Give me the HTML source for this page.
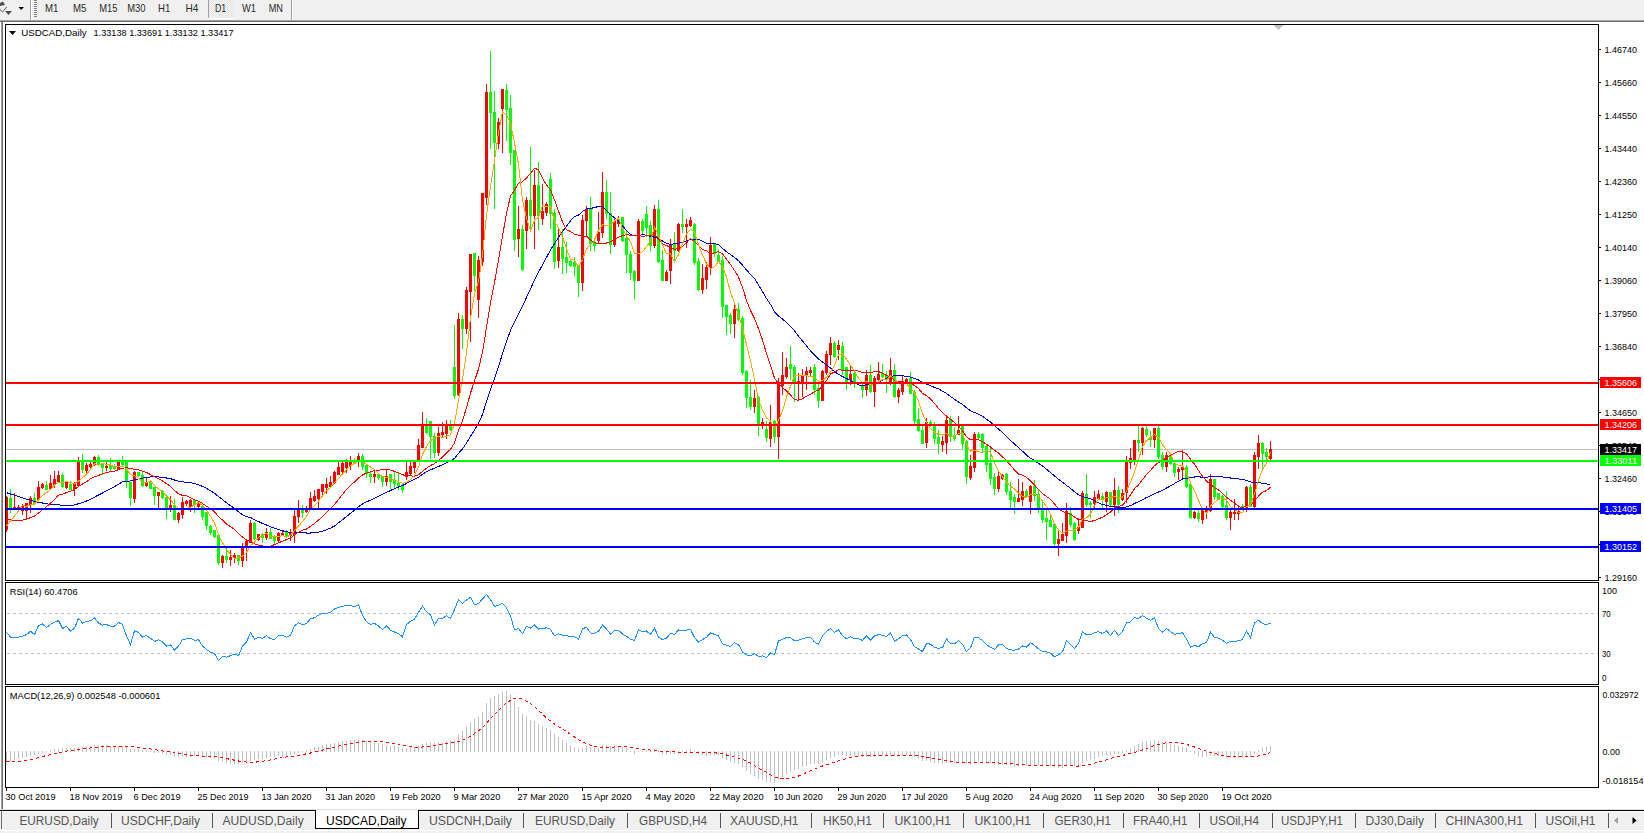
<!DOCTYPE html>
<html><head><meta charset="utf-8"><style>html,body{margin:0;padding:0;overflow:hidden;background:#f0f0f0}svg{display:block}text{font-family:"Liberation Sans",sans-serif}</style></head>
<body><svg width="1644" height="833" viewBox="0 0 1644 833">
<defs><pattern id="dots" width="2" height="2" patternUnits="userSpaceOnUse"><rect width="2" height="2" fill="#f4f4f4"/><rect width="1" height="1" fill="#e4e4e4"/><rect x="1" y="1" width="1" height="1" fill="#e4e4e4"/></pattern><clipPath id="cm"><rect x="6" y="25" width="1592" height="555"/></clipPath><clipPath id="cr"><rect x="6" y="583" width="1592" height="101"/></clipPath><clipPath id="cd"><rect x="6" y="687" width="1592" height="100"/></clipPath></defs>
<g shape-rendering="crispEdges">
<rect x="0" y="0" width="1644" height="833" fill="#f0f0f0"/>
<rect x="0" y="20" width="1644" height="1" fill="#a0a0a0"/>
<rect x="0" y="21" width="1644" height="1" fill="#6d6d6d"/>
<rect x="30" y="0" width="1" height="20" fill="#a0a0a0"/>
<rect x="31" y="0" width="1" height="20" fill="#ffffff"/>
<rect x="34" y="0" width="3" height="1" fill="#808080"/>
<rect x="34" y="2" width="3" height="1" fill="#808080"/>
<rect x="34" y="4" width="3" height="1" fill="#808080"/>
<rect x="34" y="6" width="3" height="1" fill="#808080"/>
<rect x="34" y="8" width="3" height="1" fill="#808080"/>
<rect x="34" y="10" width="3" height="1" fill="#808080"/>
<rect x="34" y="12" width="3" height="1" fill="#808080"/>
<rect x="34" y="14" width="3" height="1" fill="#808080"/>
<rect x="34" y="16" width="3" height="1" fill="#808080"/>
<rect x="208" y="0" width="1" height="18" fill="#a0a0a0"/>
<rect x="209" y="0" width="25" height="18" fill="url(#dots)"/>
<rect x="208" y="18" width="26" height="1" fill="#ffffff"/>
<rect x="291" y="0" width="1" height="20" fill="#a0a0a0"/>
<rect x="292" y="0" width="1" height="20" fill="#ffffff"/>
</g>
<text x="45" y="12" font-size="10.4" fill="#2a2a2a" textLength="13.4" lengthAdjust="spacingAndGlyphs">M1</text>
<text x="73" y="12" font-size="10.4" fill="#2a2a2a" textLength="13.4" lengthAdjust="spacingAndGlyphs">M5</text>
<text x="99.3" y="12" font-size="10.4" fill="#2a2a2a" textLength="18.2" lengthAdjust="spacingAndGlyphs">M15</text>
<text x="127.3" y="12" font-size="10.4" fill="#2a2a2a" textLength="18.2" lengthAdjust="spacingAndGlyphs">M30</text>
<text x="158" y="12" font-size="10.4" fill="#2a2a2a" textLength="12.3" lengthAdjust="spacingAndGlyphs">H1</text>
<text x="185.4" y="12" font-size="10.4" fill="#2a2a2a" textLength="12.9" lengthAdjust="spacingAndGlyphs">H4</text>
<text x="214.9" y="12" font-size="10.4" fill="#2a2a2a" textLength="11.3" lengthAdjust="spacingAndGlyphs">D1</text>
<text x="242" y="12" font-size="10.4" fill="#2a2a2a" textLength="14" lengthAdjust="spacingAndGlyphs">W1</text>
<text x="268.7" y="12" font-size="10.4" fill="#2a2a2a" textLength="14.3" lengthAdjust="spacingAndGlyphs">MN</text>
<path d="M0 3 L3 1.5 L5 5 L0 6 Z" fill="#505050"/><path d="M0 9 L2.5 11.5 L6.5 6.5 L7 7.2 L2.5 12.5 L0 10 Z" fill="#505050"/><path d="M5 11 L12 11 L8.5 15 Z" fill="#505050"/>
<path d="M18.5 7 L24 7 L21.2 10 Z" fill="#000"/>
<g shape-rendering="crispEdges">
<rect x="0" y="22" width="1644" height="787" fill="#ffffff"/>
<rect x="1" y="22" width="1" height="787" fill="#a0a0a0"/>
<rect x="2" y="22" width="1" height="787" fill="#6d6d6d"/>
<rect x="5" y="24" width="1594" height="1" fill="#000"/>
<rect x="5" y="24" width="1" height="557" fill="#000"/>
<rect x="1598" y="24" width="1" height="557" fill="#000"/>
<rect x="5" y="580" width="1594" height="1" fill="#000"/>
<rect x="5" y="582" width="1594" height="1" fill="#000"/>
<rect x="5" y="582" width="1" height="103" fill="#000"/>
<rect x="1598" y="582" width="1" height="103" fill="#000"/>
<rect x="5" y="684" width="1594" height="1" fill="#000"/>
<rect x="5" y="686" width="1594" height="1" fill="#000"/>
<rect x="5" y="686" width="1" height="102" fill="#000"/>
<rect x="1598" y="686" width="1" height="102" fill="#000"/>
<rect x="5" y="787" width="1594" height="1" fill="#000"/>
</g>
<path d="M1273.5 25 L1283.5 25 L1278.5 30 Z" fill="#c0c0c0"/>
<g shape-rendering="crispEdges">
<rect x="1599" y="49" width="2" height="1" fill="#000"/>
<rect x="1599" y="82" width="2" height="1" fill="#000"/>
<rect x="1599" y="115" width="2" height="1" fill="#000"/>
<rect x="1599" y="148" width="2" height="1" fill="#000"/>
<rect x="1599" y="181" width="2" height="1" fill="#000"/>
<rect x="1599" y="214" width="2" height="1" fill="#000"/>
<rect x="1599" y="247" width="2" height="1" fill="#000"/>
<rect x="1599" y="280" width="2" height="1" fill="#000"/>
<rect x="1599" y="313" width="2" height="1" fill="#000"/>
<rect x="1599" y="346" width="2" height="1" fill="#000"/>
<rect x="1599" y="379" width="2" height="1" fill="#000"/>
<rect x="1599" y="412" width="2" height="1" fill="#000"/>
<rect x="1599" y="445" width="2" height="1" fill="#000"/>
<rect x="1599" y="478" width="2" height="1" fill="#000"/>
<rect x="1599" y="511" width="2" height="1" fill="#000"/>
<rect x="1599" y="544" width="2" height="1" fill="#000"/>
<rect x="1599" y="577" width="2" height="1" fill="#000"/>
</g>
<text x="1604.5" y="53" font-size="9.6" fill="#000" textLength="32.5" lengthAdjust="spacingAndGlyphs">1.46740</text>
<text x="1604.5" y="86" font-size="9.6" fill="#000" textLength="32.5" lengthAdjust="spacingAndGlyphs">1.45660</text>
<text x="1604.5" y="119" font-size="9.6" fill="#000" textLength="32.5" lengthAdjust="spacingAndGlyphs">1.44550</text>
<text x="1604.5" y="152" font-size="9.6" fill="#000" textLength="32.5" lengthAdjust="spacingAndGlyphs">1.43440</text>
<text x="1604.5" y="185" font-size="9.6" fill="#000" textLength="32.5" lengthAdjust="spacingAndGlyphs">1.42360</text>
<text x="1604.5" y="218" font-size="9.6" fill="#000" textLength="32.5" lengthAdjust="spacingAndGlyphs">1.41250</text>
<text x="1604.5" y="251" font-size="9.6" fill="#000" textLength="32.5" lengthAdjust="spacingAndGlyphs">1.40140</text>
<text x="1604.5" y="284" font-size="9.6" fill="#000" textLength="32.5" lengthAdjust="spacingAndGlyphs">1.39060</text>
<text x="1604.5" y="317" font-size="9.6" fill="#000" textLength="32.5" lengthAdjust="spacingAndGlyphs">1.37950</text>
<text x="1604.5" y="350" font-size="9.6" fill="#000" textLength="32.5" lengthAdjust="spacingAndGlyphs">1.36840</text>
<text x="1604.5" y="383" font-size="9.6" fill="#000" textLength="32.5" lengthAdjust="spacingAndGlyphs">1.35730</text>
<text x="1604.5" y="416" font-size="9.6" fill="#000" textLength="32.5" lengthAdjust="spacingAndGlyphs">1.34650</text>
<text x="1604.5" y="449" font-size="9.6" fill="#000" textLength="32.5" lengthAdjust="spacingAndGlyphs">1.33540</text>
<text x="1604.5" y="482" font-size="9.6" fill="#000" textLength="32.5" lengthAdjust="spacingAndGlyphs">1.32460</text>
<text x="1604.5" y="515" font-size="9.6" fill="#000" textLength="32.5" lengthAdjust="spacingAndGlyphs">1.31370</text>
<text x="1604.5" y="548" font-size="9.6" fill="#000" textLength="32.5" lengthAdjust="spacingAndGlyphs">1.30270</text>
<text x="1604.5" y="581" font-size="9.6" fill="#000" textLength="32.5" lengthAdjust="spacingAndGlyphs">1.29160</text>
<g shape-rendering="crispEdges">
<rect x="6" y="449" width="1592" height="1" fill="#c0c0c0"/>
<rect x="6" y="496" width="1" height="36" fill="#ff0000"/>
<rect x="6" y="497" width="2" height="33" fill="#ff0000"/>
<rect x="10" y="489" width="1" height="24" fill="#00ff00"/>
<rect x="9" y="498" width="3" height="10" fill="#00ff00"/>
<rect x="14" y="493" width="1" height="16" fill="#ff0000"/>
<rect x="13" y="507" width="3" height="2" fill="#ff0000"/>
<rect x="18" y="505" width="1" height="6" fill="#ff0000"/>
<rect x="17" y="507" width="3" height="3" fill="#ff0000"/>
<rect x="22" y="504" width="1" height="11" fill="#ff0000"/>
<rect x="21" y="506" width="3" height="5" fill="#ff0000"/>
<rect x="26" y="503" width="1" height="16" fill="#ff0000"/>
<rect x="25" y="503" width="3" height="8" fill="#ff0000"/>
<rect x="30" y="496" width="1" height="17" fill="#ff0000"/>
<rect x="29" y="498" width="3" height="7" fill="#ff0000"/>
<rect x="34" y="493" width="1" height="12" fill="#00ff00"/>
<rect x="33" y="498" width="3" height="6" fill="#00ff00"/>
<rect x="38" y="481" width="1" height="20" fill="#ff0000"/>
<rect x="37" y="487" width="3" height="13" fill="#ff0000"/>
<rect x="42" y="483" width="1" height="6" fill="#ff0000"/>
<rect x="41" y="484" width="3" height="4" fill="#ff0000"/>
<rect x="46" y="481" width="1" height="9" fill="#00ff00"/>
<rect x="45" y="485" width="3" height="5" fill="#00ff00"/>
<rect x="50" y="475" width="1" height="15" fill="#ff0000"/>
<rect x="49" y="483" width="3" height="6" fill="#ff0000"/>
<rect x="54" y="471" width="1" height="17" fill="#ff0000"/>
<rect x="53" y="479" width="3" height="6" fill="#ff0000"/>
<rect x="58" y="471" width="1" height="12" fill="#ff0000"/>
<rect x="57" y="475" width="3" height="7" fill="#ff0000"/>
<rect x="62" y="473" width="1" height="15" fill="#00ff00"/>
<rect x="61" y="475" width="3" height="12" fill="#00ff00"/>
<rect x="66" y="481" width="1" height="8" fill="#ff0000"/>
<rect x="65" y="482" width="3" height="6" fill="#ff0000"/>
<rect x="70" y="481" width="1" height="9" fill="#00ff00"/>
<rect x="69" y="484" width="3" height="6" fill="#00ff00"/>
<rect x="74" y="482" width="1" height="14" fill="#ff0000"/>
<rect x="73" y="484" width="3" height="5" fill="#ff0000"/>
<rect x="78" y="457" width="1" height="30" fill="#ff0000"/>
<rect x="77" y="462" width="3" height="24" fill="#ff0000"/>
<rect x="82" y="454" width="1" height="19" fill="#00ff00"/>
<rect x="81" y="462" width="3" height="8" fill="#00ff00"/>
<rect x="86" y="463" width="1" height="12" fill="#ff0000"/>
<rect x="85" y="465" width="3" height="6" fill="#ff0000"/>
<rect x="90" y="462" width="1" height="6" fill="#ff0000"/>
<rect x="89" y="464" width="3" height="3" fill="#ff0000"/>
<rect x="94" y="456" width="1" height="10" fill="#ff0000"/>
<rect x="93" y="457" width="3" height="8" fill="#ff0000"/>
<rect x="98" y="455" width="1" height="11" fill="#00ff00"/>
<rect x="97" y="457" width="3" height="8" fill="#00ff00"/>
<rect x="102" y="464" width="1" height="11" fill="#00ff00"/>
<rect x="101" y="464" width="3" height="4" fill="#00ff00"/>
<rect x="106" y="462" width="1" height="9" fill="#ff0000"/>
<rect x="105" y="466" width="3" height="2" fill="#ff0000"/>
<rect x="110" y="458" width="1" height="13" fill="#00ff00"/>
<rect x="109" y="465" width="3" height="4" fill="#00ff00"/>
<rect x="114" y="464" width="1" height="6" fill="#00ff00"/>
<rect x="113" y="466" width="3" height="3" fill="#00ff00"/>
<rect x="118" y="462" width="1" height="8" fill="#ff0000"/>
<rect x="117" y="462" width="3" height="7" fill="#ff0000"/>
<rect x="122" y="456" width="1" height="10" fill="#00ff00"/>
<rect x="121" y="462" width="3" height="3" fill="#00ff00"/>
<rect x="126" y="462" width="1" height="26" fill="#00ff00"/>
<rect x="125" y="462" width="3" height="19" fill="#00ff00"/>
<rect x="130" y="482" width="1" height="24" fill="#00ff00"/>
<rect x="129" y="482" width="3" height="16" fill="#00ff00"/>
<rect x="134" y="471" width="1" height="32" fill="#ff0000"/>
<rect x="133" y="472" width="3" height="27" fill="#ff0000"/>
<rect x="138" y="472" width="1" height="5" fill="#00ff00"/>
<rect x="137" y="472" width="3" height="4" fill="#00ff00"/>
<rect x="142" y="472" width="1" height="15" fill="#00ff00"/>
<rect x="141" y="475" width="3" height="11" fill="#00ff00"/>
<rect x="146" y="477" width="1" height="10" fill="#ff0000"/>
<rect x="145" y="482" width="3" height="4" fill="#ff0000"/>
<rect x="150" y="480" width="1" height="9" fill="#00ff00"/>
<rect x="149" y="481" width="3" height="8" fill="#00ff00"/>
<rect x="154" y="487" width="1" height="18" fill="#00ff00"/>
<rect x="153" y="487" width="3" height="9" fill="#00ff00"/>
<rect x="158" y="492" width="1" height="17" fill="#ff0000"/>
<rect x="157" y="492" width="3" height="4" fill="#ff0000"/>
<rect x="162" y="490" width="1" height="9" fill="#00ff00"/>
<rect x="161" y="491" width="3" height="7" fill="#00ff00"/>
<rect x="166" y="495" width="1" height="24" fill="#00ff00"/>
<rect x="165" y="497" width="3" height="11" fill="#00ff00"/>
<rect x="170" y="496" width="1" height="16" fill="#ff0000"/>
<rect x="169" y="505" width="3" height="3" fill="#ff0000"/>
<rect x="174" y="499" width="1" height="21" fill="#00ff00"/>
<rect x="173" y="505" width="3" height="15" fill="#00ff00"/>
<rect x="178" y="512" width="1" height="11" fill="#ff0000"/>
<rect x="177" y="513" width="3" height="7" fill="#ff0000"/>
<rect x="182" y="497" width="1" height="22" fill="#ff0000"/>
<rect x="181" y="502" width="3" height="13" fill="#ff0000"/>
<rect x="186" y="500" width="1" height="6" fill="#ff0000"/>
<rect x="185" y="501" width="3" height="3" fill="#ff0000"/>
<rect x="190" y="499" width="1" height="13" fill="#ff0000"/>
<rect x="189" y="500" width="3" height="7" fill="#ff0000"/>
<rect x="194" y="499" width="1" height="14" fill="#00ff00"/>
<rect x="193" y="500" width="3" height="5" fill="#00ff00"/>
<rect x="198" y="502" width="1" height="6" fill="#ff0000"/>
<rect x="197" y="503" width="3" height="4" fill="#ff0000"/>
<rect x="202" y="505" width="1" height="15" fill="#00ff00"/>
<rect x="201" y="506" width="3" height="11" fill="#00ff00"/>
<rect x="206" y="512" width="1" height="18" fill="#00ff00"/>
<rect x="205" y="512" width="3" height="14" fill="#00ff00"/>
<rect x="210" y="525" width="1" height="10" fill="#00ff00"/>
<rect x="209" y="526" width="3" height="7" fill="#00ff00"/>
<rect x="214" y="530" width="1" height="8" fill="#00ff00"/>
<rect x="213" y="530" width="3" height="7" fill="#00ff00"/>
<rect x="218" y="535" width="1" height="30" fill="#00ff00"/>
<rect x="217" y="535" width="3" height="28" fill="#00ff00"/>
<rect x="222" y="555" width="1" height="13" fill="#ff0000"/>
<rect x="221" y="556" width="3" height="7" fill="#ff0000"/>
<rect x="226" y="548" width="1" height="15" fill="#00ff00"/>
<rect x="225" y="556" width="3" height="4" fill="#00ff00"/>
<rect x="230" y="550" width="1" height="16" fill="#ff0000"/>
<rect x="229" y="557" width="3" height="3" fill="#ff0000"/>
<rect x="234" y="553" width="1" height="10" fill="#ff0000"/>
<rect x="233" y="555" width="3" height="3" fill="#ff0000"/>
<rect x="238" y="555" width="1" height="10" fill="#00ff00"/>
<rect x="237" y="555" width="3" height="6" fill="#00ff00"/>
<rect x="242" y="543" width="1" height="24" fill="#ff0000"/>
<rect x="241" y="547" width="3" height="14" fill="#ff0000"/>
<rect x="246" y="540" width="1" height="21" fill="#ff0000"/>
<rect x="245" y="541" width="3" height="6" fill="#ff0000"/>
<rect x="250" y="520" width="1" height="23" fill="#ff0000"/>
<rect x="249" y="523" width="3" height="20" fill="#ff0000"/>
<rect x="254" y="522" width="1" height="18" fill="#00ff00"/>
<rect x="253" y="523" width="3" height="16" fill="#00ff00"/>
<rect x="258" y="534" width="1" height="7" fill="#ff0000"/>
<rect x="257" y="534" width="3" height="6" fill="#ff0000"/>
<rect x="262" y="533" width="1" height="10" fill="#00ff00"/>
<rect x="261" y="534" width="3" height="4" fill="#00ff00"/>
<rect x="266" y="528" width="1" height="12" fill="#ff0000"/>
<rect x="265" y="532" width="3" height="6" fill="#ff0000"/>
<rect x="270" y="528" width="1" height="11" fill="#00ff00"/>
<rect x="269" y="532" width="3" height="7" fill="#00ff00"/>
<rect x="274" y="535" width="1" height="9" fill="#00ff00"/>
<rect x="273" y="537" width="3" height="4" fill="#00ff00"/>
<rect x="278" y="532" width="1" height="11" fill="#ff0000"/>
<rect x="277" y="533" width="3" height="8" fill="#ff0000"/>
<rect x="282" y="530" width="1" height="6" fill="#ff0000"/>
<rect x="281" y="533" width="3" height="3" fill="#ff0000"/>
<rect x="286" y="530" width="1" height="8" fill="#00ff00"/>
<rect x="285" y="532" width="3" height="5" fill="#00ff00"/>
<rect x="290" y="529" width="1" height="12" fill="#ff0000"/>
<rect x="289" y="533" width="3" height="3" fill="#ff0000"/>
<rect x="294" y="510" width="1" height="33" fill="#ff0000"/>
<rect x="293" y="516" width="3" height="19" fill="#ff0000"/>
<rect x="298" y="500" width="1" height="23" fill="#ff0000"/>
<rect x="297" y="509" width="3" height="8" fill="#ff0000"/>
<rect x="302" y="505" width="1" height="13" fill="#00ff00"/>
<rect x="301" y="508" width="3" height="5" fill="#00ff00"/>
<rect x="306" y="506" width="1" height="7" fill="#ff0000"/>
<rect x="305" y="509" width="3" height="3" fill="#ff0000"/>
<rect x="310" y="492" width="1" height="18" fill="#ff0000"/>
<rect x="309" y="498" width="3" height="11" fill="#ff0000"/>
<rect x="314" y="490" width="1" height="12" fill="#ff0000"/>
<rect x="313" y="496" width="3" height="5" fill="#ff0000"/>
<rect x="318" y="489" width="1" height="19" fill="#ff0000"/>
<rect x="317" y="489" width="3" height="10" fill="#ff0000"/>
<rect x="322" y="484" width="1" height="13" fill="#ff0000"/>
<rect x="321" y="484" width="3" height="8" fill="#ff0000"/>
<rect x="326" y="478" width="1" height="16" fill="#ff0000"/>
<rect x="325" y="484" width="3" height="4" fill="#ff0000"/>
<rect x="330" y="476" width="1" height="11" fill="#ff0000"/>
<rect x="329" y="482" width="3" height="5" fill="#ff0000"/>
<rect x="334" y="471" width="1" height="13" fill="#ff0000"/>
<rect x="333" y="472" width="3" height="11" fill="#ff0000"/>
<rect x="338" y="462" width="1" height="13" fill="#ff0000"/>
<rect x="337" y="467" width="3" height="8" fill="#ff0000"/>
<rect x="342" y="461" width="1" height="14" fill="#ff0000"/>
<rect x="341" y="463" width="3" height="9" fill="#ff0000"/>
<rect x="346" y="459" width="1" height="14" fill="#ff0000"/>
<rect x="345" y="462" width="3" height="6" fill="#ff0000"/>
<rect x="350" y="456" width="1" height="14" fill="#ff0000"/>
<rect x="349" y="461" width="3" height="5" fill="#ff0000"/>
<rect x="354" y="458" width="1" height="6" fill="#00ff00"/>
<rect x="353" y="460" width="3" height="3" fill="#00ff00"/>
<rect x="358" y="453" width="1" height="14" fill="#ff0000"/>
<rect x="357" y="456" width="3" height="5" fill="#ff0000"/>
<rect x="362" y="454" width="1" height="16" fill="#00ff00"/>
<rect x="361" y="456" width="3" height="11" fill="#00ff00"/>
<rect x="366" y="464" width="1" height="14" fill="#00ff00"/>
<rect x="365" y="465" width="3" height="9" fill="#00ff00"/>
<rect x="370" y="472" width="1" height="11" fill="#00ff00"/>
<rect x="369" y="474" width="3" height="3" fill="#00ff00"/>
<rect x="374" y="469" width="1" height="14" fill="#ff0000"/>
<rect x="373" y="474" width="3" height="3" fill="#ff0000"/>
<rect x="378" y="474" width="1" height="6" fill="#00ff00"/>
<rect x="377" y="474" width="3" height="4" fill="#00ff00"/>
<rect x="382" y="477" width="1" height="10" fill="#00ff00"/>
<rect x="381" y="477" width="3" height="5" fill="#00ff00"/>
<rect x="386" y="469" width="1" height="17" fill="#ff0000"/>
<rect x="385" y="476" width="3" height="6" fill="#ff0000"/>
<rect x="390" y="474" width="1" height="15" fill="#00ff00"/>
<rect x="389" y="474" width="3" height="8" fill="#00ff00"/>
<rect x="394" y="472" width="1" height="17" fill="#00ff00"/>
<rect x="393" y="480" width="3" height="4" fill="#00ff00"/>
<rect x="398" y="472" width="1" height="18" fill="#00ff00"/>
<rect x="397" y="483" width="3" height="3" fill="#00ff00"/>
<rect x="402" y="484" width="1" height="9" fill="#00ff00"/>
<rect x="401" y="485" width="3" height="5" fill="#00ff00"/>
<rect x="406" y="462" width="1" height="18" fill="#ff0000"/>
<rect x="405" y="472" width="3" height="5" fill="#ff0000"/>
<rect x="410" y="462" width="1" height="13" fill="#ff0000"/>
<rect x="409" y="466" width="3" height="8" fill="#ff0000"/>
<rect x="414" y="461" width="1" height="12" fill="#ff0000"/>
<rect x="413" y="462" width="3" height="6" fill="#ff0000"/>
<rect x="418" y="439" width="1" height="23" fill="#ff0000"/>
<rect x="417" y="445" width="3" height="16" fill="#ff0000"/>
<rect x="422" y="412" width="1" height="36" fill="#ff0000"/>
<rect x="421" y="425" width="3" height="23" fill="#ff0000"/>
<rect x="426" y="418" width="1" height="16" fill="#00ff00"/>
<rect x="425" y="426" width="3" height="7" fill="#00ff00"/>
<rect x="430" y="421" width="1" height="38" fill="#00ff00"/>
<rect x="429" y="421" width="3" height="16" fill="#00ff00"/>
<rect x="434" y="433" width="1" height="25" fill="#00ff00"/>
<rect x="433" y="436" width="3" height="17" fill="#00ff00"/>
<rect x="438" y="427" width="1" height="29" fill="#ff0000"/>
<rect x="437" y="433" width="3" height="20" fill="#ff0000"/>
<rect x="442" y="422" width="1" height="16" fill="#ff0000"/>
<rect x="441" y="432" width="3" height="3" fill="#ff0000"/>
<rect x="446" y="420" width="1" height="19" fill="#ff0000"/>
<rect x="445" y="425" width="3" height="9" fill="#ff0000"/>
<rect x="450" y="420" width="1" height="11" fill="#00ff00"/>
<rect x="449" y="425" width="3" height="5" fill="#00ff00"/>
<rect x="454" y="325" width="1" height="74" fill="#00ff00"/>
<rect x="453" y="367" width="3" height="29" fill="#00ff00"/>
<rect x="458" y="313" width="1" height="83" fill="#ff0000"/>
<rect x="457" y="319" width="3" height="76" fill="#ff0000"/>
<rect x="462" y="315" width="1" height="34" fill="#00ff00"/>
<rect x="461" y="319" width="3" height="10" fill="#00ff00"/>
<rect x="466" y="287" width="1" height="47" fill="#ff0000"/>
<rect x="465" y="290" width="3" height="39" fill="#ff0000"/>
<rect x="470" y="254" width="1" height="88" fill="#ff0000"/>
<rect x="469" y="254" width="3" height="38" fill="#ff0000"/>
<rect x="474" y="253" width="1" height="38" fill="#00ff00"/>
<rect x="473" y="253" width="3" height="23" fill="#00ff00"/>
<rect x="478" y="256" width="1" height="62" fill="#ff0000"/>
<rect x="477" y="260" width="3" height="40" fill="#ff0000"/>
<rect x="482" y="193" width="1" height="73" fill="#ff0000"/>
<rect x="481" y="193" width="3" height="69" fill="#ff0000"/>
<rect x="486" y="84" width="1" height="121" fill="#ff0000"/>
<rect x="485" y="92" width="3" height="106" fill="#ff0000"/>
<rect x="490" y="51" width="1" height="98" fill="#00ff00"/>
<rect x="489" y="92" width="3" height="21" fill="#00ff00"/>
<rect x="494" y="91" width="1" height="118" fill="#00ff00"/>
<rect x="493" y="112" width="3" height="31" fill="#00ff00"/>
<rect x="498" y="118" width="1" height="31" fill="#ff0000"/>
<rect x="497" y="122" width="3" height="22" fill="#ff0000"/>
<rect x="502" y="89" width="1" height="64" fill="#ff0000"/>
<rect x="501" y="89" width="3" height="20" fill="#ff0000"/>
<rect x="506" y="84" width="1" height="57" fill="#00ff00"/>
<rect x="505" y="90" width="3" height="20" fill="#00ff00"/>
<rect x="510" y="95" width="1" height="70" fill="#00ff00"/>
<rect x="509" y="108" width="3" height="45" fill="#00ff00"/>
<rect x="514" y="150" width="1" height="101" fill="#00ff00"/>
<rect x="513" y="150" width="3" height="90" fill="#00ff00"/>
<rect x="518" y="206" width="1" height="51" fill="#ff0000"/>
<rect x="517" y="229" width="3" height="10" fill="#ff0000"/>
<rect x="522" y="225" width="1" height="46" fill="#00ff00"/>
<rect x="521" y="229" width="3" height="41" fill="#00ff00"/>
<rect x="526" y="197" width="1" height="52" fill="#ff0000"/>
<rect x="525" y="200" width="3" height="31" fill="#ff0000"/>
<rect x="530" y="147" width="1" height="84" fill="#00ff00"/>
<rect x="529" y="200" width="3" height="16" fill="#00ff00"/>
<rect x="534" y="170" width="1" height="79" fill="#ff0000"/>
<rect x="533" y="185" width="3" height="31" fill="#ff0000"/>
<rect x="538" y="162" width="1" height="68" fill="#00ff00"/>
<rect x="537" y="185" width="3" height="31" fill="#00ff00"/>
<rect x="542" y="184" width="1" height="41" fill="#ff0000"/>
<rect x="541" y="211" width="3" height="8" fill="#ff0000"/>
<rect x="546" y="202" width="1" height="14" fill="#ff0000"/>
<rect x="545" y="204" width="3" height="9" fill="#ff0000"/>
<rect x="550" y="173" width="1" height="56" fill="#00ff00"/>
<rect x="549" y="179" width="3" height="35" fill="#00ff00"/>
<rect x="554" y="209" width="1" height="60" fill="#00ff00"/>
<rect x="553" y="213" width="3" height="49" fill="#00ff00"/>
<rect x="558" y="229" width="1" height="39" fill="#ff0000"/>
<rect x="557" y="247" width="3" height="14" fill="#ff0000"/>
<rect x="562" y="229" width="1" height="45" fill="#00ff00"/>
<rect x="561" y="247" width="3" height="12" fill="#00ff00"/>
<rect x="566" y="242" width="1" height="31" fill="#00ff00"/>
<rect x="565" y="257" width="3" height="6" fill="#00ff00"/>
<rect x="570" y="260" width="1" height="7" fill="#00ff00"/>
<rect x="569" y="261" width="3" height="5" fill="#00ff00"/>
<rect x="574" y="257" width="1" height="19" fill="#00ff00"/>
<rect x="573" y="262" width="3" height="5" fill="#00ff00"/>
<rect x="578" y="265" width="1" height="32" fill="#00ff00"/>
<rect x="577" y="265" width="3" height="18" fill="#00ff00"/>
<rect x="582" y="215" width="1" height="76" fill="#ff0000"/>
<rect x="581" y="220" width="3" height="63" fill="#ff0000"/>
<rect x="586" y="206" width="1" height="30" fill="#ff0000"/>
<rect x="585" y="209" width="3" height="12" fill="#ff0000"/>
<rect x="590" y="197" width="1" height="54" fill="#00ff00"/>
<rect x="589" y="209" width="3" height="35" fill="#00ff00"/>
<rect x="594" y="238" width="1" height="13" fill="#00ff00"/>
<rect x="593" y="242" width="3" height="4" fill="#00ff00"/>
<rect x="598" y="212" width="1" height="31" fill="#ff0000"/>
<rect x="597" y="232" width="3" height="9" fill="#ff0000"/>
<rect x="602" y="172" width="1" height="66" fill="#ff0000"/>
<rect x="601" y="192" width="3" height="41" fill="#ff0000"/>
<rect x="606" y="180" width="1" height="39" fill="#00ff00"/>
<rect x="605" y="192" width="3" height="22" fill="#00ff00"/>
<rect x="610" y="192" width="1" height="62" fill="#00ff00"/>
<rect x="609" y="213" width="3" height="32" fill="#00ff00"/>
<rect x="614" y="218" width="1" height="29" fill="#ff0000"/>
<rect x="613" y="221" width="3" height="24" fill="#ff0000"/>
<rect x="618" y="216" width="1" height="11" fill="#ff0000"/>
<rect x="617" y="219" width="3" height="5" fill="#ff0000"/>
<rect x="622" y="217" width="1" height="25" fill="#00ff00"/>
<rect x="621" y="217" width="3" height="24" fill="#00ff00"/>
<rect x="626" y="231" width="1" height="42" fill="#00ff00"/>
<rect x="625" y="238" width="3" height="17" fill="#00ff00"/>
<rect x="630" y="251" width="1" height="29" fill="#00ff00"/>
<rect x="629" y="254" width="3" height="19" fill="#00ff00"/>
<rect x="634" y="270" width="1" height="29" fill="#00ff00"/>
<rect x="633" y="271" width="3" height="10" fill="#00ff00"/>
<rect x="638" y="219" width="1" height="62" fill="#ff0000"/>
<rect x="637" y="221" width="3" height="60" fill="#ff0000"/>
<rect x="642" y="219" width="1" height="16" fill="#00ff00"/>
<rect x="641" y="221" width="3" height="10" fill="#00ff00"/>
<rect x="646" y="206" width="1" height="31" fill="#00ff00"/>
<rect x="645" y="214" width="3" height="14" fill="#00ff00"/>
<rect x="650" y="221" width="1" height="30" fill="#00ff00"/>
<rect x="649" y="225" width="3" height="21" fill="#00ff00"/>
<rect x="654" y="205" width="1" height="43" fill="#ff0000"/>
<rect x="653" y="209" width="3" height="37" fill="#ff0000"/>
<rect x="658" y="200" width="1" height="63" fill="#00ff00"/>
<rect x="657" y="209" width="3" height="53" fill="#00ff00"/>
<rect x="662" y="250" width="1" height="31" fill="#00ff00"/>
<rect x="661" y="260" width="3" height="21" fill="#00ff00"/>
<rect x="666" y="270" width="1" height="11" fill="#ff0000"/>
<rect x="665" y="272" width="3" height="9" fill="#ff0000"/>
<rect x="670" y="239" width="1" height="45" fill="#ff0000"/>
<rect x="669" y="244" width="3" height="27" fill="#ff0000"/>
<rect x="674" y="232" width="1" height="30" fill="#00ff00"/>
<rect x="673" y="244" width="3" height="7" fill="#00ff00"/>
<rect x="678" y="223" width="1" height="29" fill="#ff0000"/>
<rect x="677" y="224" width="3" height="27" fill="#ff0000"/>
<rect x="682" y="209" width="1" height="24" fill="#00ff00"/>
<rect x="681" y="224" width="3" height="3" fill="#00ff00"/>
<rect x="686" y="219" width="1" height="29" fill="#ff0000"/>
<rect x="685" y="224" width="3" height="3" fill="#ff0000"/>
<rect x="690" y="217" width="1" height="10" fill="#ff0000"/>
<rect x="689" y="220" width="3" height="6" fill="#ff0000"/>
<rect x="694" y="223" width="1" height="42" fill="#00ff00"/>
<rect x="693" y="224" width="3" height="39" fill="#00ff00"/>
<rect x="698" y="258" width="1" height="33" fill="#00ff00"/>
<rect x="697" y="261" width="3" height="29" fill="#00ff00"/>
<rect x="702" y="264" width="1" height="30" fill="#ff0000"/>
<rect x="701" y="278" width="3" height="12" fill="#ff0000"/>
<rect x="706" y="262" width="1" height="27" fill="#ff0000"/>
<rect x="705" y="267" width="3" height="13" fill="#ff0000"/>
<rect x="710" y="237" width="1" height="38" fill="#ff0000"/>
<rect x="709" y="245" width="3" height="23" fill="#ff0000"/>
<rect x="714" y="244" width="1" height="13" fill="#00ff00"/>
<rect x="713" y="244" width="3" height="10" fill="#00ff00"/>
<rect x="718" y="249" width="1" height="13" fill="#00ff00"/>
<rect x="717" y="255" width="3" height="7" fill="#00ff00"/>
<rect x="722" y="256" width="1" height="62" fill="#00ff00"/>
<rect x="721" y="260" width="3" height="47" fill="#00ff00"/>
<rect x="726" y="305" width="1" height="30" fill="#00ff00"/>
<rect x="725" y="305" width="3" height="12" fill="#00ff00"/>
<rect x="730" y="313" width="1" height="21" fill="#00ff00"/>
<rect x="729" y="315" width="3" height="9" fill="#00ff00"/>
<rect x="734" y="304" width="1" height="34" fill="#ff0000"/>
<rect x="733" y="309" width="3" height="15" fill="#ff0000"/>
<rect x="738" y="303" width="1" height="18" fill="#00ff00"/>
<rect x="737" y="309" width="3" height="11" fill="#00ff00"/>
<rect x="742" y="316" width="1" height="59" fill="#00ff00"/>
<rect x="741" y="318" width="3" height="55" fill="#00ff00"/>
<rect x="746" y="370" width="1" height="38" fill="#00ff00"/>
<rect x="745" y="371" width="3" height="27" fill="#00ff00"/>
<rect x="750" y="380" width="1" height="30" fill="#00ff00"/>
<rect x="749" y="397" width="3" height="10" fill="#00ff00"/>
<rect x="754" y="390" width="1" height="23" fill="#ff0000"/>
<rect x="753" y="398" width="3" height="9" fill="#ff0000"/>
<rect x="758" y="396" width="1" height="40" fill="#00ff00"/>
<rect x="757" y="397" width="3" height="28" fill="#00ff00"/>
<rect x="762" y="418" width="1" height="11" fill="#ff0000"/>
<rect x="761" y="422" width="3" height="4" fill="#ff0000"/>
<rect x="766" y="421" width="1" height="21" fill="#00ff00"/>
<rect x="765" y="429" width="3" height="9" fill="#00ff00"/>
<rect x="770" y="405" width="1" height="42" fill="#ff0000"/>
<rect x="769" y="422" width="3" height="17" fill="#ff0000"/>
<rect x="774" y="420" width="1" height="23" fill="#00ff00"/>
<rect x="773" y="421" width="3" height="16" fill="#00ff00"/>
<rect x="778" y="378" width="1" height="81" fill="#ff0000"/>
<rect x="777" y="382" width="3" height="55" fill="#ff0000"/>
<rect x="782" y="352" width="1" height="43" fill="#ff0000"/>
<rect x="781" y="375" width="3" height="11" fill="#ff0000"/>
<rect x="786" y="358" width="1" height="21" fill="#ff0000"/>
<rect x="785" y="367" width="3" height="10" fill="#ff0000"/>
<rect x="790" y="346" width="1" height="34" fill="#00ff00"/>
<rect x="789" y="364" width="3" height="5" fill="#00ff00"/>
<rect x="794" y="365" width="1" height="37" fill="#00ff00"/>
<rect x="793" y="367" width="3" height="16" fill="#00ff00"/>
<rect x="798" y="373" width="1" height="27" fill="#ff0000"/>
<rect x="797" y="381" width="3" height="3" fill="#ff0000"/>
<rect x="802" y="369" width="1" height="28" fill="#ff0000"/>
<rect x="801" y="375" width="3" height="8" fill="#ff0000"/>
<rect x="806" y="367" width="1" height="23" fill="#ff0000"/>
<rect x="805" y="371" width="3" height="5" fill="#ff0000"/>
<rect x="810" y="367" width="1" height="10" fill="#ff0000"/>
<rect x="809" y="370" width="3" height="3" fill="#ff0000"/>
<rect x="814" y="364" width="1" height="31" fill="#00ff00"/>
<rect x="813" y="367" width="3" height="23" fill="#00ff00"/>
<rect x="818" y="381" width="1" height="27" fill="#00ff00"/>
<rect x="817" y="388" width="3" height="13" fill="#00ff00"/>
<rect x="822" y="370" width="1" height="31" fill="#ff0000"/>
<rect x="821" y="371" width="3" height="30" fill="#ff0000"/>
<rect x="826" y="351" width="1" height="24" fill="#ff0000"/>
<rect x="825" y="354" width="3" height="19" fill="#ff0000"/>
<rect x="830" y="337" width="1" height="28" fill="#ff0000"/>
<rect x="829" y="343" width="3" height="12" fill="#ff0000"/>
<rect x="834" y="341" width="1" height="17" fill="#00ff00"/>
<rect x="833" y="343" width="3" height="14" fill="#00ff00"/>
<rect x="838" y="340" width="1" height="20" fill="#ff0000"/>
<rect x="837" y="345" width="3" height="5" fill="#ff0000"/>
<rect x="842" y="342" width="1" height="33" fill="#00ff00"/>
<rect x="841" y="346" width="3" height="24" fill="#00ff00"/>
<rect x="846" y="367" width="1" height="23" fill="#00ff00"/>
<rect x="845" y="367" width="3" height="15" fill="#00ff00"/>
<rect x="850" y="365" width="1" height="20" fill="#ff0000"/>
<rect x="849" y="374" width="3" height="6" fill="#ff0000"/>
<rect x="854" y="371" width="1" height="17" fill="#00ff00"/>
<rect x="853" y="373" width="3" height="11" fill="#00ff00"/>
<rect x="858" y="382" width="1" height="3" fill="#00ff00"/>
<rect x="857" y="382" width="3" height="2" fill="#00ff00"/>
<rect x="862" y="384" width="1" height="14" fill="#00ff00"/>
<rect x="861" y="386" width="3" height="4" fill="#00ff00"/>
<rect x="866" y="370" width="1" height="26" fill="#ff0000"/>
<rect x="865" y="375" width="3" height="15" fill="#ff0000"/>
<rect x="870" y="365" width="1" height="28" fill="#00ff00"/>
<rect x="869" y="375" width="3" height="17" fill="#00ff00"/>
<rect x="874" y="376" width="1" height="31" fill="#ff0000"/>
<rect x="873" y="378" width="3" height="14" fill="#ff0000"/>
<rect x="878" y="362" width="1" height="20" fill="#ff0000"/>
<rect x="877" y="374" width="3" height="6" fill="#ff0000"/>
<rect x="882" y="364" width="1" height="14" fill="#00ff00"/>
<rect x="881" y="373" width="3" height="4" fill="#00ff00"/>
<rect x="886" y="371" width="1" height="22" fill="#00ff00"/>
<rect x="885" y="376" width="3" height="4" fill="#00ff00"/>
<rect x="890" y="358" width="1" height="27" fill="#ff0000"/>
<rect x="889" y="370" width="3" height="14" fill="#ff0000"/>
<rect x="894" y="364" width="1" height="34" fill="#00ff00"/>
<rect x="893" y="370" width="3" height="27" fill="#00ff00"/>
<rect x="898" y="388" width="1" height="15" fill="#ff0000"/>
<rect x="897" y="390" width="3" height="7" fill="#ff0000"/>
<rect x="902" y="376" width="1" height="19" fill="#ff0000"/>
<rect x="901" y="381" width="3" height="11" fill="#ff0000"/>
<rect x="906" y="378" width="1" height="5" fill="#ff0000"/>
<rect x="905" y="379" width="3" height="3" fill="#ff0000"/>
<rect x="910" y="372" width="1" height="22" fill="#00ff00"/>
<rect x="909" y="378" width="3" height="16" fill="#00ff00"/>
<rect x="914" y="390" width="1" height="34" fill="#00ff00"/>
<rect x="913" y="392" width="3" height="29" fill="#00ff00"/>
<rect x="918" y="408" width="1" height="24" fill="#00ff00"/>
<rect x="917" y="419" width="3" height="12" fill="#00ff00"/>
<rect x="922" y="426" width="1" height="18" fill="#00ff00"/>
<rect x="921" y="430" width="3" height="14" fill="#00ff00"/>
<rect x="926" y="418" width="1" height="30" fill="#ff0000"/>
<rect x="925" y="422" width="3" height="21" fill="#ff0000"/>
<rect x="930" y="420" width="1" height="7" fill="#00ff00"/>
<rect x="929" y="422" width="3" height="4" fill="#00ff00"/>
<rect x="934" y="422" width="1" height="22" fill="#00ff00"/>
<rect x="933" y="425" width="3" height="14" fill="#00ff00"/>
<rect x="938" y="430" width="1" height="24" fill="#00ff00"/>
<rect x="937" y="437" width="3" height="7" fill="#00ff00"/>
<rect x="942" y="436" width="1" height="16" fill="#ff0000"/>
<rect x="941" y="441" width="3" height="4" fill="#ff0000"/>
<rect x="946" y="415" width="1" height="39" fill="#ff0000"/>
<rect x="945" y="420" width="3" height="23" fill="#ff0000"/>
<rect x="950" y="416" width="1" height="26" fill="#00ff00"/>
<rect x="949" y="419" width="3" height="18" fill="#00ff00"/>
<rect x="954" y="427" width="1" height="14" fill="#00ff00"/>
<rect x="953" y="435" width="3" height="4" fill="#00ff00"/>
<rect x="958" y="416" width="1" height="19" fill="#ff0000"/>
<rect x="957" y="430" width="3" height="5" fill="#ff0000"/>
<rect x="962" y="425" width="1" height="24" fill="#00ff00"/>
<rect x="961" y="425" width="3" height="19" fill="#00ff00"/>
<rect x="966" y="440" width="1" height="44" fill="#00ff00"/>
<rect x="965" y="441" width="3" height="36" fill="#00ff00"/>
<rect x="970" y="455" width="1" height="25" fill="#ff0000"/>
<rect x="969" y="466" width="3" height="12" fill="#ff0000"/>
<rect x="974" y="432" width="1" height="40" fill="#ff0000"/>
<rect x="973" y="434" width="3" height="34" fill="#ff0000"/>
<rect x="978" y="432" width="1" height="7" fill="#00ff00"/>
<rect x="977" y="434" width="3" height="4" fill="#00ff00"/>
<rect x="982" y="433" width="1" height="20" fill="#00ff00"/>
<rect x="981" y="434" width="3" height="14" fill="#00ff00"/>
<rect x="986" y="444" width="1" height="28" fill="#00ff00"/>
<rect x="985" y="446" width="3" height="19" fill="#00ff00"/>
<rect x="990" y="448" width="1" height="37" fill="#00ff00"/>
<rect x="989" y="463" width="3" height="16" fill="#00ff00"/>
<rect x="994" y="473" width="1" height="22" fill="#00ff00"/>
<rect x="993" y="477" width="3" height="12" fill="#00ff00"/>
<rect x="998" y="471" width="1" height="21" fill="#ff0000"/>
<rect x="997" y="476" width="3" height="13" fill="#ff0000"/>
<rect x="1002" y="474" width="1" height="6" fill="#ff0000"/>
<rect x="1001" y="475" width="3" height="4" fill="#ff0000"/>
<rect x="1006" y="473" width="1" height="22" fill="#00ff00"/>
<rect x="1005" y="474" width="3" height="18" fill="#00ff00"/>
<rect x="1010" y="482" width="1" height="26" fill="#00ff00"/>
<rect x="1009" y="491" width="3" height="9" fill="#00ff00"/>
<rect x="1014" y="494" width="1" height="20" fill="#00ff00"/>
<rect x="1013" y="497" width="3" height="5" fill="#00ff00"/>
<rect x="1018" y="479" width="1" height="23" fill="#ff0000"/>
<rect x="1017" y="498" width="3" height="4" fill="#ff0000"/>
<rect x="1022" y="482" width="1" height="24" fill="#ff0000"/>
<rect x="1021" y="491" width="3" height="9" fill="#ff0000"/>
<rect x="1026" y="489" width="1" height="8" fill="#00ff00"/>
<rect x="1025" y="491" width="3" height="6" fill="#00ff00"/>
<rect x="1030" y="485" width="1" height="29" fill="#ff0000"/>
<rect x="1029" y="486" width="3" height="16" fill="#ff0000"/>
<rect x="1034" y="480" width="1" height="21" fill="#00ff00"/>
<rect x="1033" y="486" width="3" height="10" fill="#00ff00"/>
<rect x="1038" y="490" width="1" height="23" fill="#00ff00"/>
<rect x="1037" y="494" width="3" height="15" fill="#00ff00"/>
<rect x="1042" y="502" width="1" height="21" fill="#00ff00"/>
<rect x="1041" y="509" width="3" height="11" fill="#00ff00"/>
<rect x="1046" y="510" width="1" height="30" fill="#00ff00"/>
<rect x="1045" y="518" width="3" height="4" fill="#00ff00"/>
<rect x="1050" y="515" width="1" height="12" fill="#00ff00"/>
<rect x="1049" y="520" width="3" height="7" fill="#00ff00"/>
<rect x="1054" y="523" width="1" height="24" fill="#00ff00"/>
<rect x="1053" y="524" width="3" height="20" fill="#00ff00"/>
<rect x="1058" y="529" width="1" height="27" fill="#ff0000"/>
<rect x="1057" y="539" width="3" height="5" fill="#ff0000"/>
<rect x="1062" y="523" width="1" height="18" fill="#ff0000"/>
<rect x="1061" y="534" width="3" height="7" fill="#ff0000"/>
<rect x="1066" y="503" width="1" height="40" fill="#ff0000"/>
<rect x="1065" y="511" width="3" height="25" fill="#ff0000"/>
<rect x="1070" y="507" width="1" height="20" fill="#00ff00"/>
<rect x="1069" y="513" width="3" height="12" fill="#00ff00"/>
<rect x="1074" y="522" width="1" height="19" fill="#00ff00"/>
<rect x="1073" y="523" width="3" height="17" fill="#00ff00"/>
<rect x="1078" y="518" width="1" height="16" fill="#ff0000"/>
<rect x="1077" y="527" width="3" height="4" fill="#ff0000"/>
<rect x="1082" y="491" width="1" height="37" fill="#ff0000"/>
<rect x="1081" y="493" width="3" height="35" fill="#ff0000"/>
<rect x="1086" y="474" width="1" height="33" fill="#00ff00"/>
<rect x="1085" y="494" width="3" height="11" fill="#00ff00"/>
<rect x="1090" y="501" width="1" height="17" fill="#00ff00"/>
<rect x="1089" y="503" width="3" height="2" fill="#00ff00"/>
<rect x="1094" y="491" width="1" height="18" fill="#ff0000"/>
<rect x="1093" y="497" width="3" height="7" fill="#ff0000"/>
<rect x="1098" y="490" width="1" height="10" fill="#ff0000"/>
<rect x="1097" y="494" width="3" height="5" fill="#ff0000"/>
<rect x="1102" y="493" width="1" height="15" fill="#00ff00"/>
<rect x="1101" y="496" width="3" height="4" fill="#00ff00"/>
<rect x="1106" y="491" width="1" height="21" fill="#ff0000"/>
<rect x="1105" y="492" width="3" height="10" fill="#ff0000"/>
<rect x="1110" y="492" width="1" height="14" fill="#00ff00"/>
<rect x="1109" y="492" width="3" height="13" fill="#00ff00"/>
<rect x="1114" y="478" width="1" height="38" fill="#ff0000"/>
<rect x="1113" y="490" width="3" height="15" fill="#ff0000"/>
<rect x="1118" y="486" width="1" height="27" fill="#00ff00"/>
<rect x="1117" y="490" width="3" height="15" fill="#00ff00"/>
<rect x="1122" y="489" width="1" height="12" fill="#ff0000"/>
<rect x="1121" y="493" width="3" height="7" fill="#ff0000"/>
<rect x="1126" y="456" width="1" height="47" fill="#ff0000"/>
<rect x="1125" y="462" width="3" height="31" fill="#ff0000"/>
<rect x="1130" y="448" width="1" height="21" fill="#ff0000"/>
<rect x="1129" y="458" width="3" height="5" fill="#ff0000"/>
<rect x="1134" y="440" width="1" height="25" fill="#ff0000"/>
<rect x="1133" y="440" width="3" height="20" fill="#ff0000"/>
<rect x="1138" y="426" width="1" height="26" fill="#00ff00"/>
<rect x="1137" y="440" width="3" height="3" fill="#00ff00"/>
<rect x="1142" y="427" width="1" height="28" fill="#ff0000"/>
<rect x="1141" y="428" width="3" height="15" fill="#ff0000"/>
<rect x="1146" y="426" width="1" height="11" fill="#00ff00"/>
<rect x="1145" y="429" width="3" height="6" fill="#00ff00"/>
<rect x="1150" y="431" width="1" height="16" fill="#00ff00"/>
<rect x="1149" y="437" width="3" height="3" fill="#00ff00"/>
<rect x="1154" y="428" width="1" height="20" fill="#ff0000"/>
<rect x="1153" y="428" width="3" height="12" fill="#ff0000"/>
<rect x="1158" y="426" width="1" height="33" fill="#00ff00"/>
<rect x="1157" y="428" width="3" height="29" fill="#00ff00"/>
<rect x="1162" y="452" width="1" height="18" fill="#00ff00"/>
<rect x="1161" y="455" width="3" height="12" fill="#00ff00"/>
<rect x="1166" y="452" width="1" height="20" fill="#ff0000"/>
<rect x="1165" y="455" width="3" height="12" fill="#ff0000"/>
<rect x="1170" y="454" width="1" height="11" fill="#00ff00"/>
<rect x="1169" y="455" width="3" height="9" fill="#00ff00"/>
<rect x="1174" y="461" width="1" height="16" fill="#00ff00"/>
<rect x="1173" y="463" width="3" height="10" fill="#00ff00"/>
<rect x="1178" y="467" width="1" height="13" fill="#ff0000"/>
<rect x="1177" y="469" width="3" height="3" fill="#ff0000"/>
<rect x="1182" y="450" width="1" height="28" fill="#ff0000"/>
<rect x="1181" y="467" width="3" height="3" fill="#ff0000"/>
<rect x="1186" y="465" width="1" height="23" fill="#00ff00"/>
<rect x="1185" y="467" width="3" height="20" fill="#00ff00"/>
<rect x="1190" y="484" width="1" height="35" fill="#00ff00"/>
<rect x="1189" y="484" width="3" height="34" fill="#00ff00"/>
<rect x="1194" y="511" width="1" height="8" fill="#ff0000"/>
<rect x="1193" y="512" width="3" height="6" fill="#ff0000"/>
<rect x="1198" y="510" width="1" height="12" fill="#00ff00"/>
<rect x="1197" y="513" width="3" height="6" fill="#00ff00"/>
<rect x="1202" y="510" width="1" height="14" fill="#ff0000"/>
<rect x="1201" y="510" width="3" height="10" fill="#ff0000"/>
<rect x="1206" y="506" width="1" height="13" fill="#ff0000"/>
<rect x="1205" y="508" width="3" height="4" fill="#ff0000"/>
<rect x="1210" y="474" width="1" height="38" fill="#ff0000"/>
<rect x="1209" y="479" width="3" height="32" fill="#ff0000"/>
<rect x="1214" y="479" width="1" height="21" fill="#00ff00"/>
<rect x="1213" y="479" width="3" height="18" fill="#00ff00"/>
<rect x="1218" y="493" width="1" height="7" fill="#00ff00"/>
<rect x="1217" y="493" width="3" height="7" fill="#00ff00"/>
<rect x="1222" y="495" width="1" height="13" fill="#00ff00"/>
<rect x="1221" y="496" width="3" height="11" fill="#00ff00"/>
<rect x="1226" y="491" width="1" height="29" fill="#00ff00"/>
<rect x="1225" y="505" width="3" height="13" fill="#00ff00"/>
<rect x="1230" y="510" width="1" height="20" fill="#ff0000"/>
<rect x="1229" y="512" width="3" height="6" fill="#ff0000"/>
<rect x="1234" y="499" width="1" height="21" fill="#ff0000"/>
<rect x="1233" y="512" width="3" height="2" fill="#ff0000"/>
<rect x="1238" y="505" width="1" height="15" fill="#ff0000"/>
<rect x="1237" y="511" width="3" height="3" fill="#ff0000"/>
<rect x="1242" y="504" width="1" height="6" fill="#00ff00"/>
<rect x="1241" y="506" width="3" height="3" fill="#00ff00"/>
<rect x="1246" y="486" width="1" height="26" fill="#ff0000"/>
<rect x="1245" y="487" width="3" height="21" fill="#ff0000"/>
<rect x="1250" y="484" width="1" height="23" fill="#00ff00"/>
<rect x="1249" y="487" width="3" height="20" fill="#00ff00"/>
<rect x="1254" y="452" width="1" height="57" fill="#ff0000"/>
<rect x="1253" y="455" width="3" height="52" fill="#ff0000"/>
<rect x="1258" y="435" width="1" height="34" fill="#ff0000"/>
<rect x="1257" y="443" width="3" height="14" fill="#ff0000"/>
<rect x="1262" y="442" width="1" height="27" fill="#00ff00"/>
<rect x="1261" y="443" width="3" height="11" fill="#00ff00"/>
<rect x="1266" y="448" width="1" height="14" fill="#00ff00"/>
<rect x="1265" y="452" width="3" height="5" fill="#00ff00"/>
<rect x="1270" y="441" width="1" height="19" fill="#ff0000"/>
<rect x="1269" y="449" width="3" height="10" fill="#ff0000"/>
</g>
<polyline points="6.5,492.7 10.5,494.0 14.5,495.3 18.5,496.6 22.5,497.9 26.5,499.1 30.5,500.2 34.5,501.5 38.5,502.3 42.5,503.0 46.5,503.8 50.5,504.4 54.5,504.8 58.5,504.9 62.5,505.2 66.5,505.2 70.5,505.3 74.5,505.0 78.5,503.7 82.5,502.5 86.5,501.0 90.5,499.2 94.5,497.1 98.5,495.0 102.5,493.0 106.5,490.8 110.5,488.7 114.5,486.6 118.5,484.2 122.5,481.9 126.5,481.3 130.5,481.0 134.5,479.8 138.5,478.8 142.5,478.1 146.5,477.4 150.5,477.0 154.5,476.8 158.5,476.9 162.5,477.4 166.5,478.0 170.5,478.7 174.5,480.0 178.5,481.3 182.5,481.8 186.5,482.5 190.5,482.8 194.5,483.5 198.5,484.9 202.5,486.4 206.5,488.4 210.5,490.7 214.5,493.3 218.5,496.6 222.5,499.6 226.5,502.7 230.5,505.6 234.5,508.5 238.5,511.8 242.5,514.6 246.5,516.6 250.5,517.5 254.5,519.7 258.5,521.6 262.5,523.4 266.5,525.0 270.5,526.7 274.5,528.2 278.5,529.6 282.5,530.8 286.5,531.7 290.5,532.7 294.5,532.6 298.5,532.4 302.5,532.8 306.5,533.0 310.5,533.0 314.5,532.7 318.5,532.2 322.5,531.2 326.5,529.8 330.5,528.1 334.5,526.0 338.5,522.8 342.5,519.7 346.5,516.5 350.5,513.3 354.5,510.2 358.5,506.7 362.5,504.0 366.5,501.8 370.5,500.2 374.5,498.1 378.5,496.2 382.5,494.3 386.5,492.4 390.5,490.5 394.5,488.6 398.5,487.0 402.5,485.6 406.5,483.4 410.5,481.2 414.5,479.4 418.5,477.3 422.5,474.4 426.5,471.8 430.5,469.7 434.5,468.3 438.5,466.4 442.5,464.7 446.5,462.7 450.5,460.9 454.5,458.4 458.5,453.4 462.5,448.9 466.5,443.2 470.5,436.3 474.5,430.1 478.5,423.5 482.5,414.4 486.5,401.7 490.5,389.6 494.5,378.5 498.5,366.7 502.5,353.6 506.5,341.4 510.5,330.4 514.5,322.3 518.5,313.8 522.5,306.4 526.5,297.4 530.5,289.0 534.5,279.8 538.5,272.1 542.5,265.0 546.5,257.4 550.5,249.9 554.5,243.6 558.5,237.4 562.5,231.6 566.5,226.1 570.5,220.7 574.5,216.4 578.5,215.1 582.5,211.5 586.5,208.8 590.5,208.5 594.5,207.5 598.5,206.5 602.5,206.5 606.5,210.5 610.5,214.9 614.5,217.6 618.5,220.8 622.5,225.8 626.5,230.7 630.5,234.7 634.5,236.0 638.5,235.8 642.5,234.5 646.5,235.4 650.5,236.4 654.5,237.2 658.5,238.7 662.5,241.0 666.5,243.3 670.5,244.3 674.5,243.9 678.5,243.2 682.5,242.1 686.5,240.8 690.5,239.3 694.5,239.2 698.5,239.4 702.5,241.4 706.5,243.3 710.5,243.4 714.5,243.6 718.5,244.6 722.5,248.4 726.5,251.8 730.5,254.5 734.5,257.4 738.5,260.7 742.5,265.1 746.5,269.9 750.5,274.4 754.5,278.3 758.5,285.1 762.5,291.5 766.5,298.5 770.5,304.4 774.5,311.9 778.5,316.0 782.5,319.1 786.5,322.3 790.5,326.4 794.5,330.8 798.5,336.1 802.5,341.0 806.5,345.9 810.5,350.9 814.5,355.2 818.5,358.9 822.5,362.0 826.5,364.9 830.5,368.1 834.5,371.6 838.5,374.4 842.5,376.5 846.5,378.6 850.5,380.3 854.5,382.8 858.5,384.9 862.5,385.5 866.5,384.8 870.5,384.3 874.5,383.6 878.5,381.9 882.5,380.4 886.5,378.5 890.5,376.7 894.5,375.4 898.5,375.7 902.5,375.9 906.5,376.3 910.5,377.1 914.5,378.4 918.5,380.0 922.5,382.3 926.5,384.0 930.5,385.8 934.5,387.4 938.5,388.9 942.5,391.2 946.5,393.4 950.5,396.5 954.5,399.2 958.5,402.1 962.5,404.5 966.5,407.7 970.5,410.8 974.5,412.5 978.5,414.3 982.5,416.2 986.5,419.2 990.5,422.1 994.5,425.7 998.5,429.1 1002.5,432.4 1006.5,436.2 1010.5,440.5 1014.5,444.0 1018.5,447.6 1022.5,451.2 1026.5,455.1 1030.5,458.2 1034.5,460.7 1038.5,463.3 1042.5,465.9 1046.5,469.2 1050.5,472.5 1054.5,476.0 1058.5,479.2 1062.5,482.3 1066.5,485.4 1070.5,488.3 1074.5,491.7 1078.5,494.9 1082.5,496.6 1086.5,497.5 1090.5,498.8 1094.5,500.9 1098.5,502.8 1102.5,504.5 1106.5,505.4 1110.5,506.3 1114.5,506.4 1118.5,507.3 1122.5,507.9 1126.5,506.9 1130.5,505.6 1134.5,503.5 1138.5,501.7 1142.5,499.6 1146.5,497.5 1150.5,495.9 1154.5,493.7 1158.5,492.0 1162.5,490.2 1166.5,488.0 1170.5,485.9 1174.5,483.5 1178.5,481.2 1182.5,479.0 1186.5,478.1 1190.5,477.9 1194.5,477.0 1198.5,476.7 1202.5,477.3 1206.5,477.4 1210.5,476.6 1214.5,476.5 1218.5,476.7 1222.5,476.9 1226.5,477.8 1230.5,478.0 1234.5,478.8 1238.5,479.0 1242.5,479.5 1246.5,480.3 1250.5,481.9 1254.5,482.4 1258.5,482.5 1262.5,483.3 1266.5,484.0 1270.5,484.4" fill="none" stroke="#0000cd" stroke-width="1" clip-path="url(#cm)" shape-rendering="crispEdges"/>
<polyline points="6.5,518.9 10.5,519.9 14.5,520.5 18.5,520.6 22.5,520.2 26.5,519.2 30.5,517.6 34.5,516.0 38.5,513.0 42.5,509.7 46.5,506.7 50.5,503.2 54.5,499.4 58.5,495.1 62.5,494.4 66.5,492.6 70.5,491.3 74.5,489.6 78.5,486.5 82.5,484.1 86.5,481.7 90.5,478.9 94.5,476.8 98.5,475.4 102.5,473.8 106.5,472.6 110.5,471.8 114.5,471.3 118.5,469.6 122.5,468.3 126.5,467.6 130.5,468.6 134.5,469.3 138.5,469.7 142.5,471.1 146.5,472.4 150.5,474.6 154.5,476.9 158.5,478.6 162.5,480.9 166.5,483.6 170.5,486.3 174.5,490.4 178.5,493.9 182.5,495.4 186.5,495.7 190.5,497.7 194.5,499.8 198.5,501.1 202.5,503.5 206.5,506.1 210.5,508.8 214.5,511.9 218.5,516.6 222.5,520.1 226.5,523.9 230.5,526.6 234.5,529.6 238.5,533.8 242.5,537.1 246.5,540.0 250.5,541.4 254.5,543.9 258.5,545.1 262.5,546.0 266.5,546.0 270.5,546.1 274.5,544.6 278.5,542.9 282.5,541.1 286.5,539.6 290.5,538.0 294.5,534.9 298.5,532.1 302.5,530.1 306.5,529.1 310.5,526.2 314.5,523.5 318.5,520.1 322.5,516.6 326.5,512.8 330.5,508.6 334.5,504.3 338.5,499.6 342.5,494.4 346.5,489.3 350.5,485.4 354.5,482.0 358.5,478.0 362.5,474.9 366.5,473.1 370.5,471.7 374.5,470.6 378.5,470.1 382.5,469.9 386.5,469.5 390.5,470.1 394.5,471.3 398.5,472.9 402.5,474.8 406.5,475.6 410.5,475.9 414.5,476.3 418.5,474.8 422.5,471.4 426.5,468.2 430.5,465.5 434.5,463.7 438.5,460.3 442.5,457.1 446.5,453.1 450.5,449.3 454.5,442.9 458.5,430.7 462.5,420.4 466.5,407.9 470.5,393.0 474.5,380.9 478.5,369.1 482.5,352.0 486.5,327.4 490.5,303.1 494.5,282.4 498.5,260.2 502.5,236.2 506.5,213.4 510.5,196.0 514.5,190.3 518.5,183.2 522.5,181.7 526.5,177.9 530.5,173.6 534.5,168.2 538.5,169.8 542.5,178.3 546.5,184.9 550.5,189.9 554.5,199.9 558.5,211.1 562.5,221.8 566.5,229.6 570.5,231.5 574.5,234.1 578.5,235.1 582.5,236.5 586.5,236.1 590.5,240.2 594.5,242.4 598.5,243.9 602.5,243.0 606.5,243.0 610.5,241.8 614.5,239.9 618.5,237.1 622.5,235.6 626.5,234.8 630.5,235.2 634.5,235.1 638.5,235.1 642.5,236.6 646.5,235.5 650.5,235.5 654.5,233.9 658.5,238.8 662.5,243.6 666.5,245.6 670.5,247.2 674.5,249.4 678.5,248.3 682.5,246.3 686.5,242.9 690.5,238.6 694.5,241.5 698.5,245.7 702.5,249.4 706.5,250.9 710.5,253.5 714.5,252.9 718.5,251.6 722.5,254.0 726.5,259.1 730.5,264.4 734.5,270.4 738.5,277.1 742.5,287.6 746.5,300.3 750.5,310.6 754.5,318.4 758.5,328.8 762.5,339.9 766.5,353.6 770.5,365.6 774.5,378.1 778.5,383.6 782.5,387.8 786.5,390.9 790.5,395.1 794.5,399.6 798.5,400.3 802.5,398.7 806.5,396.2 810.5,394.2 814.5,391.7 818.5,390.1 822.5,385.4 826.5,380.6 830.5,373.9 834.5,372.1 838.5,369.9 842.5,370.1 846.5,371.0 850.5,370.4 854.5,370.6 858.5,371.1 862.5,372.4 866.5,372.8 870.5,372.9 874.5,371.4 878.5,371.6 882.5,373.1 886.5,375.7 890.5,376.7 894.5,380.4 898.5,381.9 902.5,381.9 906.5,382.2 910.5,382.9 914.5,385.6 918.5,388.5 922.5,393.4 926.5,395.6 930.5,398.9 934.5,403.5 938.5,408.3 942.5,412.7 946.5,416.3 950.5,419.1 954.5,422.6 958.5,426.1 962.5,430.6 966.5,436.6 970.5,439.9 974.5,440.1 978.5,439.7 982.5,441.5 986.5,444.3 990.5,447.1 994.5,450.4 998.5,452.9 1002.5,456.8 1006.5,460.7 1010.5,465.1 1014.5,470.1 1018.5,474.1 1022.5,475.1 1026.5,477.3 1030.5,481.0 1034.5,485.1 1038.5,489.5 1042.5,493.4 1046.5,496.5 1050.5,499.2 1054.5,504.0 1058.5,508.6 1062.5,511.6 1066.5,512.5 1070.5,514.1 1074.5,517.1 1078.5,519.6 1082.5,519.4 1086.5,520.7 1090.5,521.4 1094.5,520.6 1098.5,518.8 1102.5,517.2 1106.5,514.8 1110.5,512.0 1114.5,508.5 1118.5,506.4 1122.5,505.1 1126.5,500.6 1130.5,494.9 1134.5,488.6 1138.5,485.0 1142.5,479.6 1146.5,474.6 1150.5,470.4 1154.5,465.7 1158.5,462.6 1162.5,460.8 1166.5,457.3 1170.5,455.4 1174.5,453.1 1178.5,451.4 1182.5,451.7 1186.5,453.7 1190.5,459.2 1194.5,464.2 1198.5,470.6 1202.5,476.1 1206.5,481.0 1210.5,484.6 1214.5,487.5 1218.5,489.9 1222.5,493.5 1226.5,497.4 1230.5,500.2 1234.5,503.3 1238.5,506.4 1242.5,508.0 1246.5,505.9 1250.5,505.4 1254.5,500.9 1258.5,496.1 1262.5,492.2 1266.5,490.6 1270.5,487.2" fill="none" stroke="#ff0000" stroke-width="1" clip-path="url(#cm)" shape-rendering="crispEdges"/>
<polyline points="6.5,526.0 10.5,521.0 14.5,516.0 18.5,510.9 22.5,505.3 26.5,506.5 30.5,504.7 34.5,503.9 38.5,499.9 42.5,495.5 46.5,492.7 50.5,489.7 54.5,484.9 58.5,482.5 62.5,482.9 66.5,481.5 70.5,482.7 74.5,483.7 78.5,481.1 82.5,477.7 86.5,474.3 90.5,469.3 94.5,463.9 98.5,464.3 102.5,463.9 106.5,464.1 110.5,464.9 114.5,467.1 118.5,466.7 122.5,466.1 126.5,468.9 130.5,474.7 134.5,475.5 138.5,478.1 142.5,482.3 146.5,482.7 150.5,480.9 154.5,485.5 158.5,488.9 162.5,491.3 166.5,496.3 170.5,499.7 174.5,504.5 178.5,508.7 182.5,509.7 186.5,508.5 190.5,507.5 194.5,504.5 198.5,502.5 202.5,505.3 206.5,510.1 210.5,516.5 214.5,522.9 218.5,534.7 222.5,542.7 226.5,549.5 230.5,554.5 234.5,558.3 238.5,557.9 242.5,556.1 246.5,552.5 250.5,545.7 254.5,542.3 258.5,537.1 262.5,535.1 266.5,533.3 270.5,536.3 274.5,536.7 278.5,536.5 282.5,535.7 286.5,536.5 290.5,535.5 294.5,530.7 298.5,525.9 302.5,521.7 306.5,516.3 310.5,509.3 314.5,505.3 318.5,501.3 322.5,495.7 326.5,490.7 330.5,487.5 334.5,482.7 338.5,478.3 342.5,474.1 346.5,469.7 350.5,465.5 354.5,463.5 358.5,461.3 362.5,461.9 366.5,464.1 370.5,467.1 374.5,469.5 378.5,473.7 382.5,476.7 386.5,477.3 390.5,478.3 394.5,480.1 398.5,481.7 402.5,483.3 406.5,482.5 410.5,479.5 414.5,475.3 418.5,467.3 422.5,454.5 426.5,446.5 430.5,440.5 434.5,438.5 438.5,436.1 442.5,437.5 446.5,436.1 450.5,434.7 454.5,423.3 458.5,400.5 462.5,379.7 466.5,352.7 470.5,317.7 474.5,293.7 478.5,281.9 482.5,254.9 486.5,215.3 490.5,186.9 494.5,160.3 498.5,132.7 502.5,111.9 506.5,115.3 510.5,123.3 514.5,142.7 518.5,164.1 522.5,200.1 526.5,218.3 530.5,230.9 534.5,220.1 538.5,217.3 542.5,205.7 546.5,206.5 550.5,206.1 554.5,221.3 558.5,227.7 562.5,237.1 566.5,248.7 570.5,259.1 574.5,260.1 578.5,267.1 582.5,259.5 586.5,248.9 590.5,244.5 594.5,240.3 598.5,230.3 602.5,224.7 606.5,225.5 610.5,225.7 614.5,220.9 618.5,218.3 622.5,227.9 626.5,236.1 630.5,241.7 634.5,253.5 638.5,253.9 642.5,251.9 646.5,246.5 650.5,241.1 654.5,226.9 658.5,234.9 662.5,244.9 666.5,253.9 670.5,253.7 674.5,261.9 678.5,254.5 682.5,243.7 686.5,234.1 690.5,229.3 694.5,231.7 698.5,244.7 702.5,255.1 706.5,263.7 710.5,268.7 714.5,266.9 718.5,261.3 722.5,266.9 726.5,276.7 730.5,292.3 734.5,303.5 738.5,315.1 742.5,328.3 746.5,344.5 750.5,361.1 754.5,378.9 758.5,399.9 762.5,409.9 766.5,417.9 770.5,421.1 774.5,428.7 778.5,420.3 782.5,410.9 786.5,396.9 790.5,386.1 794.5,375.3 798.5,375.1 802.5,375.1 806.5,375.9 810.5,376.3 814.5,377.7 818.5,381.5 822.5,380.7 826.5,377.3 830.5,371.9 834.5,365.3 838.5,354.3 842.5,353.9 846.5,359.3 850.5,365.5 854.5,370.9 858.5,378.5 862.5,382.5 866.5,381.3 870.5,384.7 874.5,383.7 878.5,381.9 882.5,379.3 886.5,380.1 890.5,375.9 894.5,379.5 898.5,382.7 902.5,383.7 906.5,383.7 910.5,388.3 914.5,393.1 918.5,401.1 922.5,413.5 926.5,422.1 930.5,428.5 934.5,432.1 938.5,434.7 942.5,434.3 946.5,433.9 950.5,436.1 954.5,436.1 958.5,433.5 962.5,433.9 966.5,445.1 970.5,451.1 974.5,450.3 978.5,451.7 982.5,452.5 986.5,450.1 990.5,452.5 994.5,463.3 998.5,471.1 1002.5,476.7 1006.5,482.1 1010.5,486.3 1014.5,488.9 1018.5,493.3 1022.5,496.5 1026.5,497.5 1030.5,494.9 1034.5,493.7 1038.5,495.7 1042.5,501.3 1046.5,506.3 1050.5,514.3 1054.5,523.9 1058.5,530.1 1062.5,533.1 1066.5,531.1 1070.5,530.7 1074.5,529.9 1078.5,527.5 1082.5,519.3 1086.5,517.9 1090.5,513.9 1094.5,505.5 1098.5,498.9 1102.5,500.1 1106.5,497.7 1110.5,497.7 1114.5,496.3 1118.5,498.3 1122.5,497.1 1126.5,491.1 1130.5,481.9 1134.5,471.9 1138.5,459.5 1142.5,446.5 1146.5,440.9 1150.5,437.1 1154.5,434.7 1158.5,437.5 1162.5,445.1 1166.5,449.3 1170.5,454.1 1174.5,462.9 1178.5,465.5 1182.5,465.7 1186.5,471.9 1190.5,482.7 1194.5,490.7 1198.5,500.5 1202.5,509.1 1206.5,513.5 1210.5,505.9 1214.5,502.7 1218.5,498.9 1222.5,498.1 1226.5,499.9 1230.5,506.5 1234.5,509.7 1238.5,512.1 1242.5,512.5 1246.5,506.5 1250.5,505.3 1254.5,493.9 1258.5,480.3 1262.5,469.3 1266.5,463.1 1270.5,451.7" fill="none" stroke="#ffa500" stroke-width="1" clip-path="url(#cm)" shape-rendering="crispEdges"/>
<g shape-rendering="crispEdges">
<rect x="6" y="382" width="1592" height="2" fill="#ff0000"/>
<rect x="6" y="424" width="1592" height="2" fill="#ff0000"/>
<rect x="6" y="460" width="1592" height="2" fill="#00ff00"/>
<rect x="6" y="508" width="1592" height="2" fill="#0000ff"/>
<rect x="6" y="546" width="1592" height="2" fill="#0000ff"/>
</g>
<g shape-rendering="crispEdges">
<rect x="1600" y="377" width="41" height="11" fill="#ff0000"/>
<rect x="1600" y="419" width="41" height="11" fill="#ff0000"/>
<rect x="1600" y="444" width="41" height="11" fill="#000"/>
<rect x="1600" y="455" width="41" height="11" fill="#00ff00"/>
<rect x="1600" y="503" width="41" height="11" fill="#0000ff"/>
<rect x="1600" y="541" width="41" height="11" fill="#0000ff"/>
</g>
<text x="1604.5" y="386" font-size="9.6" fill="#fff" textLength="32.5" lengthAdjust="spacingAndGlyphs">1.35606</text>
<text x="1604.5" y="428" font-size="9.6" fill="#fff" textLength="32.5" lengthAdjust="spacingAndGlyphs">1.34206</text>
<text x="1604.5" y="453" font-size="9.6" fill="#fff" textLength="32.5" lengthAdjust="spacingAndGlyphs">1.33417</text>
<text x="1604.5" y="464" font-size="9.6" fill="#fff" textLength="32.5" lengthAdjust="spacingAndGlyphs">1.33011</text>
<text x="1604.5" y="512" font-size="9.6" fill="#fff" textLength="32.5" lengthAdjust="spacingAndGlyphs">1.31405</text>
<text x="1604.5" y="550" font-size="9.6" fill="#fff" textLength="32.5" lengthAdjust="spacingAndGlyphs">1.30152</text>
<path d="M9 31 L16 31 L12.5 35 Z" fill="#000"/>
<text x="21.3" y="36" font-size="9.6" fill="#000" textLength="65.4" lengthAdjust="spacingAndGlyphs">USDCAD,Daily</text>
<text x="93.5" y="36" font-size="9.6" fill="#000" textLength="140" lengthAdjust="spacingAndGlyphs">1.33138 1.33691 1.33132 1.33417</text>
<g shape-rendering="crispEdges">
<rect x="7" y="613" width="3" height="1" fill="#c0c0c0"/>
<rect x="13" y="613" width="3" height="1" fill="#c0c0c0"/>
<rect x="19" y="613" width="3" height="1" fill="#c0c0c0"/>
<rect x="25" y="613" width="3" height="1" fill="#c0c0c0"/>
<rect x="31" y="613" width="3" height="1" fill="#c0c0c0"/>
<rect x="37" y="613" width="3" height="1" fill="#c0c0c0"/>
<rect x="43" y="613" width="3" height="1" fill="#c0c0c0"/>
<rect x="49" y="613" width="3" height="1" fill="#c0c0c0"/>
<rect x="55" y="613" width="3" height="1" fill="#c0c0c0"/>
<rect x="61" y="613" width="3" height="1" fill="#c0c0c0"/>
<rect x="67" y="613" width="3" height="1" fill="#c0c0c0"/>
<rect x="73" y="613" width="3" height="1" fill="#c0c0c0"/>
<rect x="79" y="613" width="3" height="1" fill="#c0c0c0"/>
<rect x="85" y="613" width="3" height="1" fill="#c0c0c0"/>
<rect x="91" y="613" width="3" height="1" fill="#c0c0c0"/>
<rect x="97" y="613" width="3" height="1" fill="#c0c0c0"/>
<rect x="103" y="613" width="3" height="1" fill="#c0c0c0"/>
<rect x="109" y="613" width="3" height="1" fill="#c0c0c0"/>
<rect x="115" y="613" width="3" height="1" fill="#c0c0c0"/>
<rect x="121" y="613" width="3" height="1" fill="#c0c0c0"/>
<rect x="127" y="613" width="3" height="1" fill="#c0c0c0"/>
<rect x="133" y="613" width="3" height="1" fill="#c0c0c0"/>
<rect x="139" y="613" width="3" height="1" fill="#c0c0c0"/>
<rect x="145" y="613" width="3" height="1" fill="#c0c0c0"/>
<rect x="151" y="613" width="3" height="1" fill="#c0c0c0"/>
<rect x="157" y="613" width="3" height="1" fill="#c0c0c0"/>
<rect x="163" y="613" width="3" height="1" fill="#c0c0c0"/>
<rect x="169" y="613" width="3" height="1" fill="#c0c0c0"/>
<rect x="175" y="613" width="3" height="1" fill="#c0c0c0"/>
<rect x="181" y="613" width="3" height="1" fill="#c0c0c0"/>
<rect x="187" y="613" width="3" height="1" fill="#c0c0c0"/>
<rect x="193" y="613" width="3" height="1" fill="#c0c0c0"/>
<rect x="199" y="613" width="3" height="1" fill="#c0c0c0"/>
<rect x="205" y="613" width="3" height="1" fill="#c0c0c0"/>
<rect x="211" y="613" width="3" height="1" fill="#c0c0c0"/>
<rect x="217" y="613" width="3" height="1" fill="#c0c0c0"/>
<rect x="223" y="613" width="3" height="1" fill="#c0c0c0"/>
<rect x="229" y="613" width="3" height="1" fill="#c0c0c0"/>
<rect x="235" y="613" width="3" height="1" fill="#c0c0c0"/>
<rect x="241" y="613" width="3" height="1" fill="#c0c0c0"/>
<rect x="247" y="613" width="3" height="1" fill="#c0c0c0"/>
<rect x="253" y="613" width="3" height="1" fill="#c0c0c0"/>
<rect x="259" y="613" width="3" height="1" fill="#c0c0c0"/>
<rect x="265" y="613" width="3" height="1" fill="#c0c0c0"/>
<rect x="271" y="613" width="3" height="1" fill="#c0c0c0"/>
<rect x="277" y="613" width="3" height="1" fill="#c0c0c0"/>
<rect x="283" y="613" width="3" height="1" fill="#c0c0c0"/>
<rect x="289" y="613" width="3" height="1" fill="#c0c0c0"/>
<rect x="295" y="613" width="3" height="1" fill="#c0c0c0"/>
<rect x="301" y="613" width="3" height="1" fill="#c0c0c0"/>
<rect x="307" y="613" width="3" height="1" fill="#c0c0c0"/>
<rect x="313" y="613" width="3" height="1" fill="#c0c0c0"/>
<rect x="319" y="613" width="3" height="1" fill="#c0c0c0"/>
<rect x="325" y="613" width="3" height="1" fill="#c0c0c0"/>
<rect x="331" y="613" width="3" height="1" fill="#c0c0c0"/>
<rect x="337" y="613" width="3" height="1" fill="#c0c0c0"/>
<rect x="343" y="613" width="3" height="1" fill="#c0c0c0"/>
<rect x="349" y="613" width="3" height="1" fill="#c0c0c0"/>
<rect x="355" y="613" width="3" height="1" fill="#c0c0c0"/>
<rect x="361" y="613" width="3" height="1" fill="#c0c0c0"/>
<rect x="367" y="613" width="3" height="1" fill="#c0c0c0"/>
<rect x="373" y="613" width="3" height="1" fill="#c0c0c0"/>
<rect x="379" y="613" width="3" height="1" fill="#c0c0c0"/>
<rect x="385" y="613" width="3" height="1" fill="#c0c0c0"/>
<rect x="391" y="613" width="3" height="1" fill="#c0c0c0"/>
<rect x="397" y="613" width="3" height="1" fill="#c0c0c0"/>
<rect x="403" y="613" width="3" height="1" fill="#c0c0c0"/>
<rect x="409" y="613" width="3" height="1" fill="#c0c0c0"/>
<rect x="415" y="613" width="3" height="1" fill="#c0c0c0"/>
<rect x="421" y="613" width="3" height="1" fill="#c0c0c0"/>
<rect x="427" y="613" width="3" height="1" fill="#c0c0c0"/>
<rect x="433" y="613" width="3" height="1" fill="#c0c0c0"/>
<rect x="439" y="613" width="3" height="1" fill="#c0c0c0"/>
<rect x="445" y="613" width="3" height="1" fill="#c0c0c0"/>
<rect x="451" y="613" width="3" height="1" fill="#c0c0c0"/>
<rect x="457" y="613" width="3" height="1" fill="#c0c0c0"/>
<rect x="463" y="613" width="3" height="1" fill="#c0c0c0"/>
<rect x="469" y="613" width="3" height="1" fill="#c0c0c0"/>
<rect x="475" y="613" width="3" height="1" fill="#c0c0c0"/>
<rect x="481" y="613" width="3" height="1" fill="#c0c0c0"/>
<rect x="487" y="613" width="3" height="1" fill="#c0c0c0"/>
<rect x="493" y="613" width="3" height="1" fill="#c0c0c0"/>
<rect x="499" y="613" width="3" height="1" fill="#c0c0c0"/>
<rect x="505" y="613" width="3" height="1" fill="#c0c0c0"/>
<rect x="511" y="613" width="3" height="1" fill="#c0c0c0"/>
<rect x="517" y="613" width="3" height="1" fill="#c0c0c0"/>
<rect x="523" y="613" width="3" height="1" fill="#c0c0c0"/>
<rect x="529" y="613" width="3" height="1" fill="#c0c0c0"/>
<rect x="535" y="613" width="3" height="1" fill="#c0c0c0"/>
<rect x="541" y="613" width="3" height="1" fill="#c0c0c0"/>
<rect x="547" y="613" width="3" height="1" fill="#c0c0c0"/>
<rect x="553" y="613" width="3" height="1" fill="#c0c0c0"/>
<rect x="559" y="613" width="3" height="1" fill="#c0c0c0"/>
<rect x="565" y="613" width="3" height="1" fill="#c0c0c0"/>
<rect x="571" y="613" width="3" height="1" fill="#c0c0c0"/>
<rect x="577" y="613" width="3" height="1" fill="#c0c0c0"/>
<rect x="583" y="613" width="3" height="1" fill="#c0c0c0"/>
<rect x="589" y="613" width="3" height="1" fill="#c0c0c0"/>
<rect x="595" y="613" width="3" height="1" fill="#c0c0c0"/>
<rect x="601" y="613" width="3" height="1" fill="#c0c0c0"/>
<rect x="607" y="613" width="3" height="1" fill="#c0c0c0"/>
<rect x="613" y="613" width="3" height="1" fill="#c0c0c0"/>
<rect x="619" y="613" width="3" height="1" fill="#c0c0c0"/>
<rect x="625" y="613" width="3" height="1" fill="#c0c0c0"/>
<rect x="631" y="613" width="3" height="1" fill="#c0c0c0"/>
<rect x="637" y="613" width="3" height="1" fill="#c0c0c0"/>
<rect x="643" y="613" width="3" height="1" fill="#c0c0c0"/>
<rect x="649" y="613" width="3" height="1" fill="#c0c0c0"/>
<rect x="655" y="613" width="3" height="1" fill="#c0c0c0"/>
<rect x="661" y="613" width="3" height="1" fill="#c0c0c0"/>
<rect x="667" y="613" width="3" height="1" fill="#c0c0c0"/>
<rect x="673" y="613" width="3" height="1" fill="#c0c0c0"/>
<rect x="679" y="613" width="3" height="1" fill="#c0c0c0"/>
<rect x="685" y="613" width="3" height="1" fill="#c0c0c0"/>
<rect x="691" y="613" width="3" height="1" fill="#c0c0c0"/>
<rect x="697" y="613" width="3" height="1" fill="#c0c0c0"/>
<rect x="703" y="613" width="3" height="1" fill="#c0c0c0"/>
<rect x="709" y="613" width="3" height="1" fill="#c0c0c0"/>
<rect x="715" y="613" width="3" height="1" fill="#c0c0c0"/>
<rect x="721" y="613" width="3" height="1" fill="#c0c0c0"/>
<rect x="727" y="613" width="3" height="1" fill="#c0c0c0"/>
<rect x="733" y="613" width="3" height="1" fill="#c0c0c0"/>
<rect x="739" y="613" width="3" height="1" fill="#c0c0c0"/>
<rect x="745" y="613" width="3" height="1" fill="#c0c0c0"/>
<rect x="751" y="613" width="3" height="1" fill="#c0c0c0"/>
<rect x="757" y="613" width="3" height="1" fill="#c0c0c0"/>
<rect x="763" y="613" width="3" height="1" fill="#c0c0c0"/>
<rect x="769" y="613" width="3" height="1" fill="#c0c0c0"/>
<rect x="775" y="613" width="3" height="1" fill="#c0c0c0"/>
<rect x="781" y="613" width="3" height="1" fill="#c0c0c0"/>
<rect x="787" y="613" width="3" height="1" fill="#c0c0c0"/>
<rect x="793" y="613" width="3" height="1" fill="#c0c0c0"/>
<rect x="799" y="613" width="3" height="1" fill="#c0c0c0"/>
<rect x="805" y="613" width="3" height="1" fill="#c0c0c0"/>
<rect x="811" y="613" width="3" height="1" fill="#c0c0c0"/>
<rect x="817" y="613" width="3" height="1" fill="#c0c0c0"/>
<rect x="823" y="613" width="3" height="1" fill="#c0c0c0"/>
<rect x="829" y="613" width="3" height="1" fill="#c0c0c0"/>
<rect x="835" y="613" width="3" height="1" fill="#c0c0c0"/>
<rect x="841" y="613" width="3" height="1" fill="#c0c0c0"/>
<rect x="847" y="613" width="3" height="1" fill="#c0c0c0"/>
<rect x="853" y="613" width="3" height="1" fill="#c0c0c0"/>
<rect x="859" y="613" width="3" height="1" fill="#c0c0c0"/>
<rect x="865" y="613" width="3" height="1" fill="#c0c0c0"/>
<rect x="871" y="613" width="3" height="1" fill="#c0c0c0"/>
<rect x="877" y="613" width="3" height="1" fill="#c0c0c0"/>
<rect x="883" y="613" width="3" height="1" fill="#c0c0c0"/>
<rect x="889" y="613" width="3" height="1" fill="#c0c0c0"/>
<rect x="895" y="613" width="3" height="1" fill="#c0c0c0"/>
<rect x="901" y="613" width="3" height="1" fill="#c0c0c0"/>
<rect x="907" y="613" width="3" height="1" fill="#c0c0c0"/>
<rect x="913" y="613" width="3" height="1" fill="#c0c0c0"/>
<rect x="919" y="613" width="3" height="1" fill="#c0c0c0"/>
<rect x="925" y="613" width="3" height="1" fill="#c0c0c0"/>
<rect x="931" y="613" width="3" height="1" fill="#c0c0c0"/>
<rect x="937" y="613" width="3" height="1" fill="#c0c0c0"/>
<rect x="943" y="613" width="3" height="1" fill="#c0c0c0"/>
<rect x="949" y="613" width="3" height="1" fill="#c0c0c0"/>
<rect x="955" y="613" width="3" height="1" fill="#c0c0c0"/>
<rect x="961" y="613" width="3" height="1" fill="#c0c0c0"/>
<rect x="967" y="613" width="3" height="1" fill="#c0c0c0"/>
<rect x="973" y="613" width="3" height="1" fill="#c0c0c0"/>
<rect x="979" y="613" width="3" height="1" fill="#c0c0c0"/>
<rect x="985" y="613" width="3" height="1" fill="#c0c0c0"/>
<rect x="991" y="613" width="3" height="1" fill="#c0c0c0"/>
<rect x="997" y="613" width="3" height="1" fill="#c0c0c0"/>
<rect x="1003" y="613" width="3" height="1" fill="#c0c0c0"/>
<rect x="1009" y="613" width="3" height="1" fill="#c0c0c0"/>
<rect x="1015" y="613" width="3" height="1" fill="#c0c0c0"/>
<rect x="1021" y="613" width="3" height="1" fill="#c0c0c0"/>
<rect x="1027" y="613" width="3" height="1" fill="#c0c0c0"/>
<rect x="1033" y="613" width="3" height="1" fill="#c0c0c0"/>
<rect x="1039" y="613" width="3" height="1" fill="#c0c0c0"/>
<rect x="1045" y="613" width="3" height="1" fill="#c0c0c0"/>
<rect x="1051" y="613" width="3" height="1" fill="#c0c0c0"/>
<rect x="1057" y="613" width="3" height="1" fill="#c0c0c0"/>
<rect x="1063" y="613" width="3" height="1" fill="#c0c0c0"/>
<rect x="1069" y="613" width="3" height="1" fill="#c0c0c0"/>
<rect x="1075" y="613" width="3" height="1" fill="#c0c0c0"/>
<rect x="1081" y="613" width="3" height="1" fill="#c0c0c0"/>
<rect x="1087" y="613" width="3" height="1" fill="#c0c0c0"/>
<rect x="1093" y="613" width="3" height="1" fill="#c0c0c0"/>
<rect x="1099" y="613" width="3" height="1" fill="#c0c0c0"/>
<rect x="1105" y="613" width="3" height="1" fill="#c0c0c0"/>
<rect x="1111" y="613" width="3" height="1" fill="#c0c0c0"/>
<rect x="1117" y="613" width="3" height="1" fill="#c0c0c0"/>
<rect x="1123" y="613" width="3" height="1" fill="#c0c0c0"/>
<rect x="1129" y="613" width="3" height="1" fill="#c0c0c0"/>
<rect x="1135" y="613" width="3" height="1" fill="#c0c0c0"/>
<rect x="1141" y="613" width="3" height="1" fill="#c0c0c0"/>
<rect x="1147" y="613" width="3" height="1" fill="#c0c0c0"/>
<rect x="1153" y="613" width="3" height="1" fill="#c0c0c0"/>
<rect x="1159" y="613" width="3" height="1" fill="#c0c0c0"/>
<rect x="1165" y="613" width="3" height="1" fill="#c0c0c0"/>
<rect x="1171" y="613" width="3" height="1" fill="#c0c0c0"/>
<rect x="1177" y="613" width="3" height="1" fill="#c0c0c0"/>
<rect x="1183" y="613" width="3" height="1" fill="#c0c0c0"/>
<rect x="1189" y="613" width="3" height="1" fill="#c0c0c0"/>
<rect x="1195" y="613" width="3" height="1" fill="#c0c0c0"/>
<rect x="1201" y="613" width="3" height="1" fill="#c0c0c0"/>
<rect x="1207" y="613" width="3" height="1" fill="#c0c0c0"/>
<rect x="1213" y="613" width="3" height="1" fill="#c0c0c0"/>
<rect x="1219" y="613" width="3" height="1" fill="#c0c0c0"/>
<rect x="1225" y="613" width="3" height="1" fill="#c0c0c0"/>
<rect x="1231" y="613" width="3" height="1" fill="#c0c0c0"/>
<rect x="1237" y="613" width="3" height="1" fill="#c0c0c0"/>
<rect x="1243" y="613" width="3" height="1" fill="#c0c0c0"/>
<rect x="1249" y="613" width="3" height="1" fill="#c0c0c0"/>
<rect x="1255" y="613" width="3" height="1" fill="#c0c0c0"/>
<rect x="1261" y="613" width="3" height="1" fill="#c0c0c0"/>
<rect x="1267" y="613" width="3" height="1" fill="#c0c0c0"/>
<rect x="1273" y="613" width="3" height="1" fill="#c0c0c0"/>
<rect x="1279" y="613" width="3" height="1" fill="#c0c0c0"/>
<rect x="1285" y="613" width="3" height="1" fill="#c0c0c0"/>
<rect x="1291" y="613" width="3" height="1" fill="#c0c0c0"/>
<rect x="1297" y="613" width="3" height="1" fill="#c0c0c0"/>
<rect x="1303" y="613" width="3" height="1" fill="#c0c0c0"/>
<rect x="1309" y="613" width="3" height="1" fill="#c0c0c0"/>
<rect x="1315" y="613" width="3" height="1" fill="#c0c0c0"/>
<rect x="1321" y="613" width="3" height="1" fill="#c0c0c0"/>
<rect x="1327" y="613" width="3" height="1" fill="#c0c0c0"/>
<rect x="1333" y="613" width="3" height="1" fill="#c0c0c0"/>
<rect x="1339" y="613" width="3" height="1" fill="#c0c0c0"/>
<rect x="1345" y="613" width="3" height="1" fill="#c0c0c0"/>
<rect x="1351" y="613" width="3" height="1" fill="#c0c0c0"/>
<rect x="1357" y="613" width="3" height="1" fill="#c0c0c0"/>
<rect x="1363" y="613" width="3" height="1" fill="#c0c0c0"/>
<rect x="1369" y="613" width="3" height="1" fill="#c0c0c0"/>
<rect x="1375" y="613" width="3" height="1" fill="#c0c0c0"/>
<rect x="1381" y="613" width="3" height="1" fill="#c0c0c0"/>
<rect x="1387" y="613" width="3" height="1" fill="#c0c0c0"/>
<rect x="1393" y="613" width="3" height="1" fill="#c0c0c0"/>
<rect x="1399" y="613" width="3" height="1" fill="#c0c0c0"/>
<rect x="1405" y="613" width="3" height="1" fill="#c0c0c0"/>
<rect x="1411" y="613" width="3" height="1" fill="#c0c0c0"/>
<rect x="1417" y="613" width="3" height="1" fill="#c0c0c0"/>
<rect x="1423" y="613" width="3" height="1" fill="#c0c0c0"/>
<rect x="1429" y="613" width="3" height="1" fill="#c0c0c0"/>
<rect x="1435" y="613" width="3" height="1" fill="#c0c0c0"/>
<rect x="1441" y="613" width="3" height="1" fill="#c0c0c0"/>
<rect x="1447" y="613" width="3" height="1" fill="#c0c0c0"/>
<rect x="1453" y="613" width="3" height="1" fill="#c0c0c0"/>
<rect x="1459" y="613" width="3" height="1" fill="#c0c0c0"/>
<rect x="1465" y="613" width="3" height="1" fill="#c0c0c0"/>
<rect x="1471" y="613" width="3" height="1" fill="#c0c0c0"/>
<rect x="1477" y="613" width="3" height="1" fill="#c0c0c0"/>
<rect x="1483" y="613" width="3" height="1" fill="#c0c0c0"/>
<rect x="1489" y="613" width="3" height="1" fill="#c0c0c0"/>
<rect x="1495" y="613" width="3" height="1" fill="#c0c0c0"/>
<rect x="1501" y="613" width="3" height="1" fill="#c0c0c0"/>
<rect x="1507" y="613" width="3" height="1" fill="#c0c0c0"/>
<rect x="1513" y="613" width="3" height="1" fill="#c0c0c0"/>
<rect x="1519" y="613" width="3" height="1" fill="#c0c0c0"/>
<rect x="1525" y="613" width="3" height="1" fill="#c0c0c0"/>
<rect x="1531" y="613" width="3" height="1" fill="#c0c0c0"/>
<rect x="1537" y="613" width="3" height="1" fill="#c0c0c0"/>
<rect x="1543" y="613" width="3" height="1" fill="#c0c0c0"/>
<rect x="1549" y="613" width="3" height="1" fill="#c0c0c0"/>
<rect x="1555" y="613" width="3" height="1" fill="#c0c0c0"/>
<rect x="1561" y="613" width="3" height="1" fill="#c0c0c0"/>
<rect x="1567" y="613" width="3" height="1" fill="#c0c0c0"/>
<rect x="1573" y="613" width="3" height="1" fill="#c0c0c0"/>
<rect x="1579" y="613" width="3" height="1" fill="#c0c0c0"/>
<rect x="1585" y="613" width="3" height="1" fill="#c0c0c0"/>
<rect x="1591" y="613" width="3" height="1" fill="#c0c0c0"/>
<rect x="1597" y="613" width="1" height="1" fill="#c0c0c0"/>
<rect x="7" y="653" width="3" height="1" fill="#c0c0c0"/>
<rect x="13" y="653" width="3" height="1" fill="#c0c0c0"/>
<rect x="19" y="653" width="3" height="1" fill="#c0c0c0"/>
<rect x="25" y="653" width="3" height="1" fill="#c0c0c0"/>
<rect x="31" y="653" width="3" height="1" fill="#c0c0c0"/>
<rect x="37" y="653" width="3" height="1" fill="#c0c0c0"/>
<rect x="43" y="653" width="3" height="1" fill="#c0c0c0"/>
<rect x="49" y="653" width="3" height="1" fill="#c0c0c0"/>
<rect x="55" y="653" width="3" height="1" fill="#c0c0c0"/>
<rect x="61" y="653" width="3" height="1" fill="#c0c0c0"/>
<rect x="67" y="653" width="3" height="1" fill="#c0c0c0"/>
<rect x="73" y="653" width="3" height="1" fill="#c0c0c0"/>
<rect x="79" y="653" width="3" height="1" fill="#c0c0c0"/>
<rect x="85" y="653" width="3" height="1" fill="#c0c0c0"/>
<rect x="91" y="653" width="3" height="1" fill="#c0c0c0"/>
<rect x="97" y="653" width="3" height="1" fill="#c0c0c0"/>
<rect x="103" y="653" width="3" height="1" fill="#c0c0c0"/>
<rect x="109" y="653" width="3" height="1" fill="#c0c0c0"/>
<rect x="115" y="653" width="3" height="1" fill="#c0c0c0"/>
<rect x="121" y="653" width="3" height="1" fill="#c0c0c0"/>
<rect x="127" y="653" width="3" height="1" fill="#c0c0c0"/>
<rect x="133" y="653" width="3" height="1" fill="#c0c0c0"/>
<rect x="139" y="653" width="3" height="1" fill="#c0c0c0"/>
<rect x="145" y="653" width="3" height="1" fill="#c0c0c0"/>
<rect x="151" y="653" width="3" height="1" fill="#c0c0c0"/>
<rect x="157" y="653" width="3" height="1" fill="#c0c0c0"/>
<rect x="163" y="653" width="3" height="1" fill="#c0c0c0"/>
<rect x="169" y="653" width="3" height="1" fill="#c0c0c0"/>
<rect x="175" y="653" width="3" height="1" fill="#c0c0c0"/>
<rect x="181" y="653" width="3" height="1" fill="#c0c0c0"/>
<rect x="187" y="653" width="3" height="1" fill="#c0c0c0"/>
<rect x="193" y="653" width="3" height="1" fill="#c0c0c0"/>
<rect x="199" y="653" width="3" height="1" fill="#c0c0c0"/>
<rect x="205" y="653" width="3" height="1" fill="#c0c0c0"/>
<rect x="211" y="653" width="3" height="1" fill="#c0c0c0"/>
<rect x="217" y="653" width="3" height="1" fill="#c0c0c0"/>
<rect x="223" y="653" width="3" height="1" fill="#c0c0c0"/>
<rect x="229" y="653" width="3" height="1" fill="#c0c0c0"/>
<rect x="235" y="653" width="3" height="1" fill="#c0c0c0"/>
<rect x="241" y="653" width="3" height="1" fill="#c0c0c0"/>
<rect x="247" y="653" width="3" height="1" fill="#c0c0c0"/>
<rect x="253" y="653" width="3" height="1" fill="#c0c0c0"/>
<rect x="259" y="653" width="3" height="1" fill="#c0c0c0"/>
<rect x="265" y="653" width="3" height="1" fill="#c0c0c0"/>
<rect x="271" y="653" width="3" height="1" fill="#c0c0c0"/>
<rect x="277" y="653" width="3" height="1" fill="#c0c0c0"/>
<rect x="283" y="653" width="3" height="1" fill="#c0c0c0"/>
<rect x="289" y="653" width="3" height="1" fill="#c0c0c0"/>
<rect x="295" y="653" width="3" height="1" fill="#c0c0c0"/>
<rect x="301" y="653" width="3" height="1" fill="#c0c0c0"/>
<rect x="307" y="653" width="3" height="1" fill="#c0c0c0"/>
<rect x="313" y="653" width="3" height="1" fill="#c0c0c0"/>
<rect x="319" y="653" width="3" height="1" fill="#c0c0c0"/>
<rect x="325" y="653" width="3" height="1" fill="#c0c0c0"/>
<rect x="331" y="653" width="3" height="1" fill="#c0c0c0"/>
<rect x="337" y="653" width="3" height="1" fill="#c0c0c0"/>
<rect x="343" y="653" width="3" height="1" fill="#c0c0c0"/>
<rect x="349" y="653" width="3" height="1" fill="#c0c0c0"/>
<rect x="355" y="653" width="3" height="1" fill="#c0c0c0"/>
<rect x="361" y="653" width="3" height="1" fill="#c0c0c0"/>
<rect x="367" y="653" width="3" height="1" fill="#c0c0c0"/>
<rect x="373" y="653" width="3" height="1" fill="#c0c0c0"/>
<rect x="379" y="653" width="3" height="1" fill="#c0c0c0"/>
<rect x="385" y="653" width="3" height="1" fill="#c0c0c0"/>
<rect x="391" y="653" width="3" height="1" fill="#c0c0c0"/>
<rect x="397" y="653" width="3" height="1" fill="#c0c0c0"/>
<rect x="403" y="653" width="3" height="1" fill="#c0c0c0"/>
<rect x="409" y="653" width="3" height="1" fill="#c0c0c0"/>
<rect x="415" y="653" width="3" height="1" fill="#c0c0c0"/>
<rect x="421" y="653" width="3" height="1" fill="#c0c0c0"/>
<rect x="427" y="653" width="3" height="1" fill="#c0c0c0"/>
<rect x="433" y="653" width="3" height="1" fill="#c0c0c0"/>
<rect x="439" y="653" width="3" height="1" fill="#c0c0c0"/>
<rect x="445" y="653" width="3" height="1" fill="#c0c0c0"/>
<rect x="451" y="653" width="3" height="1" fill="#c0c0c0"/>
<rect x="457" y="653" width="3" height="1" fill="#c0c0c0"/>
<rect x="463" y="653" width="3" height="1" fill="#c0c0c0"/>
<rect x="469" y="653" width="3" height="1" fill="#c0c0c0"/>
<rect x="475" y="653" width="3" height="1" fill="#c0c0c0"/>
<rect x="481" y="653" width="3" height="1" fill="#c0c0c0"/>
<rect x="487" y="653" width="3" height="1" fill="#c0c0c0"/>
<rect x="493" y="653" width="3" height="1" fill="#c0c0c0"/>
<rect x="499" y="653" width="3" height="1" fill="#c0c0c0"/>
<rect x="505" y="653" width="3" height="1" fill="#c0c0c0"/>
<rect x="511" y="653" width="3" height="1" fill="#c0c0c0"/>
<rect x="517" y="653" width="3" height="1" fill="#c0c0c0"/>
<rect x="523" y="653" width="3" height="1" fill="#c0c0c0"/>
<rect x="529" y="653" width="3" height="1" fill="#c0c0c0"/>
<rect x="535" y="653" width="3" height="1" fill="#c0c0c0"/>
<rect x="541" y="653" width="3" height="1" fill="#c0c0c0"/>
<rect x="547" y="653" width="3" height="1" fill="#c0c0c0"/>
<rect x="553" y="653" width="3" height="1" fill="#c0c0c0"/>
<rect x="559" y="653" width="3" height="1" fill="#c0c0c0"/>
<rect x="565" y="653" width="3" height="1" fill="#c0c0c0"/>
<rect x="571" y="653" width="3" height="1" fill="#c0c0c0"/>
<rect x="577" y="653" width="3" height="1" fill="#c0c0c0"/>
<rect x="583" y="653" width="3" height="1" fill="#c0c0c0"/>
<rect x="589" y="653" width="3" height="1" fill="#c0c0c0"/>
<rect x="595" y="653" width="3" height="1" fill="#c0c0c0"/>
<rect x="601" y="653" width="3" height="1" fill="#c0c0c0"/>
<rect x="607" y="653" width="3" height="1" fill="#c0c0c0"/>
<rect x="613" y="653" width="3" height="1" fill="#c0c0c0"/>
<rect x="619" y="653" width="3" height="1" fill="#c0c0c0"/>
<rect x="625" y="653" width="3" height="1" fill="#c0c0c0"/>
<rect x="631" y="653" width="3" height="1" fill="#c0c0c0"/>
<rect x="637" y="653" width="3" height="1" fill="#c0c0c0"/>
<rect x="643" y="653" width="3" height="1" fill="#c0c0c0"/>
<rect x="649" y="653" width="3" height="1" fill="#c0c0c0"/>
<rect x="655" y="653" width="3" height="1" fill="#c0c0c0"/>
<rect x="661" y="653" width="3" height="1" fill="#c0c0c0"/>
<rect x="667" y="653" width="3" height="1" fill="#c0c0c0"/>
<rect x="673" y="653" width="3" height="1" fill="#c0c0c0"/>
<rect x="679" y="653" width="3" height="1" fill="#c0c0c0"/>
<rect x="685" y="653" width="3" height="1" fill="#c0c0c0"/>
<rect x="691" y="653" width="3" height="1" fill="#c0c0c0"/>
<rect x="697" y="653" width="3" height="1" fill="#c0c0c0"/>
<rect x="703" y="653" width="3" height="1" fill="#c0c0c0"/>
<rect x="709" y="653" width="3" height="1" fill="#c0c0c0"/>
<rect x="715" y="653" width="3" height="1" fill="#c0c0c0"/>
<rect x="721" y="653" width="3" height="1" fill="#c0c0c0"/>
<rect x="727" y="653" width="3" height="1" fill="#c0c0c0"/>
<rect x="733" y="653" width="3" height="1" fill="#c0c0c0"/>
<rect x="739" y="653" width="3" height="1" fill="#c0c0c0"/>
<rect x="745" y="653" width="3" height="1" fill="#c0c0c0"/>
<rect x="751" y="653" width="3" height="1" fill="#c0c0c0"/>
<rect x="757" y="653" width="3" height="1" fill="#c0c0c0"/>
<rect x="763" y="653" width="3" height="1" fill="#c0c0c0"/>
<rect x="769" y="653" width="3" height="1" fill="#c0c0c0"/>
<rect x="775" y="653" width="3" height="1" fill="#c0c0c0"/>
<rect x="781" y="653" width="3" height="1" fill="#c0c0c0"/>
<rect x="787" y="653" width="3" height="1" fill="#c0c0c0"/>
<rect x="793" y="653" width="3" height="1" fill="#c0c0c0"/>
<rect x="799" y="653" width="3" height="1" fill="#c0c0c0"/>
<rect x="805" y="653" width="3" height="1" fill="#c0c0c0"/>
<rect x="811" y="653" width="3" height="1" fill="#c0c0c0"/>
<rect x="817" y="653" width="3" height="1" fill="#c0c0c0"/>
<rect x="823" y="653" width="3" height="1" fill="#c0c0c0"/>
<rect x="829" y="653" width="3" height="1" fill="#c0c0c0"/>
<rect x="835" y="653" width="3" height="1" fill="#c0c0c0"/>
<rect x="841" y="653" width="3" height="1" fill="#c0c0c0"/>
<rect x="847" y="653" width="3" height="1" fill="#c0c0c0"/>
<rect x="853" y="653" width="3" height="1" fill="#c0c0c0"/>
<rect x="859" y="653" width="3" height="1" fill="#c0c0c0"/>
<rect x="865" y="653" width="3" height="1" fill="#c0c0c0"/>
<rect x="871" y="653" width="3" height="1" fill="#c0c0c0"/>
<rect x="877" y="653" width="3" height="1" fill="#c0c0c0"/>
<rect x="883" y="653" width="3" height="1" fill="#c0c0c0"/>
<rect x="889" y="653" width="3" height="1" fill="#c0c0c0"/>
<rect x="895" y="653" width="3" height="1" fill="#c0c0c0"/>
<rect x="901" y="653" width="3" height="1" fill="#c0c0c0"/>
<rect x="907" y="653" width="3" height="1" fill="#c0c0c0"/>
<rect x="913" y="653" width="3" height="1" fill="#c0c0c0"/>
<rect x="919" y="653" width="3" height="1" fill="#c0c0c0"/>
<rect x="925" y="653" width="3" height="1" fill="#c0c0c0"/>
<rect x="931" y="653" width="3" height="1" fill="#c0c0c0"/>
<rect x="937" y="653" width="3" height="1" fill="#c0c0c0"/>
<rect x="943" y="653" width="3" height="1" fill="#c0c0c0"/>
<rect x="949" y="653" width="3" height="1" fill="#c0c0c0"/>
<rect x="955" y="653" width="3" height="1" fill="#c0c0c0"/>
<rect x="961" y="653" width="3" height="1" fill="#c0c0c0"/>
<rect x="967" y="653" width="3" height="1" fill="#c0c0c0"/>
<rect x="973" y="653" width="3" height="1" fill="#c0c0c0"/>
<rect x="979" y="653" width="3" height="1" fill="#c0c0c0"/>
<rect x="985" y="653" width="3" height="1" fill="#c0c0c0"/>
<rect x="991" y="653" width="3" height="1" fill="#c0c0c0"/>
<rect x="997" y="653" width="3" height="1" fill="#c0c0c0"/>
<rect x="1003" y="653" width="3" height="1" fill="#c0c0c0"/>
<rect x="1009" y="653" width="3" height="1" fill="#c0c0c0"/>
<rect x="1015" y="653" width="3" height="1" fill="#c0c0c0"/>
<rect x="1021" y="653" width="3" height="1" fill="#c0c0c0"/>
<rect x="1027" y="653" width="3" height="1" fill="#c0c0c0"/>
<rect x="1033" y="653" width="3" height="1" fill="#c0c0c0"/>
<rect x="1039" y="653" width="3" height="1" fill="#c0c0c0"/>
<rect x="1045" y="653" width="3" height="1" fill="#c0c0c0"/>
<rect x="1051" y="653" width="3" height="1" fill="#c0c0c0"/>
<rect x="1057" y="653" width="3" height="1" fill="#c0c0c0"/>
<rect x="1063" y="653" width="3" height="1" fill="#c0c0c0"/>
<rect x="1069" y="653" width="3" height="1" fill="#c0c0c0"/>
<rect x="1075" y="653" width="3" height="1" fill="#c0c0c0"/>
<rect x="1081" y="653" width="3" height="1" fill="#c0c0c0"/>
<rect x="1087" y="653" width="3" height="1" fill="#c0c0c0"/>
<rect x="1093" y="653" width="3" height="1" fill="#c0c0c0"/>
<rect x="1099" y="653" width="3" height="1" fill="#c0c0c0"/>
<rect x="1105" y="653" width="3" height="1" fill="#c0c0c0"/>
<rect x="1111" y="653" width="3" height="1" fill="#c0c0c0"/>
<rect x="1117" y="653" width="3" height="1" fill="#c0c0c0"/>
<rect x="1123" y="653" width="3" height="1" fill="#c0c0c0"/>
<rect x="1129" y="653" width="3" height="1" fill="#c0c0c0"/>
<rect x="1135" y="653" width="3" height="1" fill="#c0c0c0"/>
<rect x="1141" y="653" width="3" height="1" fill="#c0c0c0"/>
<rect x="1147" y="653" width="3" height="1" fill="#c0c0c0"/>
<rect x="1153" y="653" width="3" height="1" fill="#c0c0c0"/>
<rect x="1159" y="653" width="3" height="1" fill="#c0c0c0"/>
<rect x="1165" y="653" width="3" height="1" fill="#c0c0c0"/>
<rect x="1171" y="653" width="3" height="1" fill="#c0c0c0"/>
<rect x="1177" y="653" width="3" height="1" fill="#c0c0c0"/>
<rect x="1183" y="653" width="3" height="1" fill="#c0c0c0"/>
<rect x="1189" y="653" width="3" height="1" fill="#c0c0c0"/>
<rect x="1195" y="653" width="3" height="1" fill="#c0c0c0"/>
<rect x="1201" y="653" width="3" height="1" fill="#c0c0c0"/>
<rect x="1207" y="653" width="3" height="1" fill="#c0c0c0"/>
<rect x="1213" y="653" width="3" height="1" fill="#c0c0c0"/>
<rect x="1219" y="653" width="3" height="1" fill="#c0c0c0"/>
<rect x="1225" y="653" width="3" height="1" fill="#c0c0c0"/>
<rect x="1231" y="653" width="3" height="1" fill="#c0c0c0"/>
<rect x="1237" y="653" width="3" height="1" fill="#c0c0c0"/>
<rect x="1243" y="653" width="3" height="1" fill="#c0c0c0"/>
<rect x="1249" y="653" width="3" height="1" fill="#c0c0c0"/>
<rect x="1255" y="653" width="3" height="1" fill="#c0c0c0"/>
<rect x="1261" y="653" width="3" height="1" fill="#c0c0c0"/>
<rect x="1267" y="653" width="3" height="1" fill="#c0c0c0"/>
<rect x="1273" y="653" width="3" height="1" fill="#c0c0c0"/>
<rect x="1279" y="653" width="3" height="1" fill="#c0c0c0"/>
<rect x="1285" y="653" width="3" height="1" fill="#c0c0c0"/>
<rect x="1291" y="653" width="3" height="1" fill="#c0c0c0"/>
<rect x="1297" y="653" width="3" height="1" fill="#c0c0c0"/>
<rect x="1303" y="653" width="3" height="1" fill="#c0c0c0"/>
<rect x="1309" y="653" width="3" height="1" fill="#c0c0c0"/>
<rect x="1315" y="653" width="3" height="1" fill="#c0c0c0"/>
<rect x="1321" y="653" width="3" height="1" fill="#c0c0c0"/>
<rect x="1327" y="653" width="3" height="1" fill="#c0c0c0"/>
<rect x="1333" y="653" width="3" height="1" fill="#c0c0c0"/>
<rect x="1339" y="653" width="3" height="1" fill="#c0c0c0"/>
<rect x="1345" y="653" width="3" height="1" fill="#c0c0c0"/>
<rect x="1351" y="653" width="3" height="1" fill="#c0c0c0"/>
<rect x="1357" y="653" width="3" height="1" fill="#c0c0c0"/>
<rect x="1363" y="653" width="3" height="1" fill="#c0c0c0"/>
<rect x="1369" y="653" width="3" height="1" fill="#c0c0c0"/>
<rect x="1375" y="653" width="3" height="1" fill="#c0c0c0"/>
<rect x="1381" y="653" width="3" height="1" fill="#c0c0c0"/>
<rect x="1387" y="653" width="3" height="1" fill="#c0c0c0"/>
<rect x="1393" y="653" width="3" height="1" fill="#c0c0c0"/>
<rect x="1399" y="653" width="3" height="1" fill="#c0c0c0"/>
<rect x="1405" y="653" width="3" height="1" fill="#c0c0c0"/>
<rect x="1411" y="653" width="3" height="1" fill="#c0c0c0"/>
<rect x="1417" y="653" width="3" height="1" fill="#c0c0c0"/>
<rect x="1423" y="653" width="3" height="1" fill="#c0c0c0"/>
<rect x="1429" y="653" width="3" height="1" fill="#c0c0c0"/>
<rect x="1435" y="653" width="3" height="1" fill="#c0c0c0"/>
<rect x="1441" y="653" width="3" height="1" fill="#c0c0c0"/>
<rect x="1447" y="653" width="3" height="1" fill="#c0c0c0"/>
<rect x="1453" y="653" width="3" height="1" fill="#c0c0c0"/>
<rect x="1459" y="653" width="3" height="1" fill="#c0c0c0"/>
<rect x="1465" y="653" width="3" height="1" fill="#c0c0c0"/>
<rect x="1471" y="653" width="3" height="1" fill="#c0c0c0"/>
<rect x="1477" y="653" width="3" height="1" fill="#c0c0c0"/>
<rect x="1483" y="653" width="3" height="1" fill="#c0c0c0"/>
<rect x="1489" y="653" width="3" height="1" fill="#c0c0c0"/>
<rect x="1495" y="653" width="3" height="1" fill="#c0c0c0"/>
<rect x="1501" y="653" width="3" height="1" fill="#c0c0c0"/>
<rect x="1507" y="653" width="3" height="1" fill="#c0c0c0"/>
<rect x="1513" y="653" width="3" height="1" fill="#c0c0c0"/>
<rect x="1519" y="653" width="3" height="1" fill="#c0c0c0"/>
<rect x="1525" y="653" width="3" height="1" fill="#c0c0c0"/>
<rect x="1531" y="653" width="3" height="1" fill="#c0c0c0"/>
<rect x="1537" y="653" width="3" height="1" fill="#c0c0c0"/>
<rect x="1543" y="653" width="3" height="1" fill="#c0c0c0"/>
<rect x="1549" y="653" width="3" height="1" fill="#c0c0c0"/>
<rect x="1555" y="653" width="3" height="1" fill="#c0c0c0"/>
<rect x="1561" y="653" width="3" height="1" fill="#c0c0c0"/>
<rect x="1567" y="653" width="3" height="1" fill="#c0c0c0"/>
<rect x="1573" y="653" width="3" height="1" fill="#c0c0c0"/>
<rect x="1579" y="653" width="3" height="1" fill="#c0c0c0"/>
<rect x="1585" y="653" width="3" height="1" fill="#c0c0c0"/>
<rect x="1591" y="653" width="3" height="1" fill="#c0c0c0"/>
<rect x="1597" y="653" width="1" height="1" fill="#c0c0c0"/>
</g>
<text x="9.7" y="595" font-size="9.6" fill="#000" textLength="68" lengthAdjust="spacingAndGlyphs">RSI(14) 60.4706</text>
<text x="1602" y="594" font-size="9.6" fill="#000" textLength="15" lengthAdjust="spacingAndGlyphs">100</text>
<text x="1602" y="617" font-size="9.6" fill="#000" textLength="8.7" lengthAdjust="spacingAndGlyphs">70</text>
<text x="1602" y="657" font-size="9.6" fill="#000" textLength="8.7" lengthAdjust="spacingAndGlyphs">30</text>
<text x="1602" y="681" font-size="9.6" fill="#000" textLength="4.5" lengthAdjust="spacingAndGlyphs">0</text>
<polyline points="6.5,632.1 10.5,637.1 14.5,637.1 18.5,637.1 22.5,636.4 26.5,634.5 30.5,631.3 34.5,634.6 38.5,625.4 42.5,624.0 46.5,627.5 50.5,624.4 54.5,622.4 58.5,620.5 62.5,628.5 66.5,626.4 70.5,631.1 74.5,628.2 78.5,618.4 82.5,623.0 86.5,621.3 90.5,620.9 94.5,618.0 98.5,623.0 102.5,625.1 106.5,624.6 110.5,626.1 114.5,626.1 118.5,622.6 122.5,624.3 126.5,635.9 130.5,644.6 134.5,630.9 138.5,632.4 142.5,637.1 146.5,635.5 150.5,638.3 154.5,641.4 158.5,639.7 162.5,642.0 166.5,646.1 170.5,644.8 174.5,650.2 178.5,646.2 182.5,639.5 186.5,639.0 190.5,638.3 194.5,640.4 198.5,639.7 202.5,646.0 206.5,649.6 210.5,652.1 214.5,653.5 218.5,660.6 222.5,656.3 226.5,657.1 230.5,655.6 234.5,654.1 238.5,655.7 242.5,646.1 246.5,642.2 250.5,632.5 254.5,639.1 258.5,637.1 262.5,638.4 266.5,635.8 270.5,638.6 274.5,639.5 278.5,635.4 282.5,635.4 286.5,637.1 290.5,635.2 294.5,625.9 298.5,622.8 302.5,624.8 306.5,623.3 310.5,618.6 314.5,617.8 318.5,615.1 322.5,613.3 326.5,613.3 330.5,612.5 334.5,608.9 338.5,607.4 342.5,606.2 346.5,605.8 350.5,605.5 354.5,606.7 358.5,604.6 362.5,615.5 366.5,621.9 370.5,624.5 374.5,623.3 378.5,626.0 382.5,629.5 386.5,626.0 390.5,630.3 394.5,632.0 398.5,633.7 402.5,636.9 406.5,624.6 410.5,621.3 414.5,619.2 418.5,612.1 422.5,606.3 426.5,611.7 430.5,614.7 434.5,625.2 438.5,618.4 442.5,618.1 446.5,615.9 450.5,618.5 454.5,609.4 458.5,599.4 462.5,603.4 466.5,599.9 470.5,597.4 474.5,604.9 478.5,603.5 482.5,598.9 486.5,594.7 490.5,599.6 494.5,606.4 498.5,605.2 502.5,603.2 506.5,607.7 510.5,616.3 514.5,629.6 518.5,628.5 522.5,633.6 526.5,626.2 530.5,628.1 534.5,625.1 538.5,629.1 542.5,628.6 546.5,627.8 550.5,629.2 554.5,635.8 558.5,633.8 562.5,635.3 566.5,635.9 570.5,636.3 574.5,636.5 578.5,639.1 582.5,628.8 586.5,627.2 590.5,633.0 594.5,633.3 598.5,631.2 602.5,625.2 606.5,629.1 610.5,634.2 614.5,630.6 618.5,630.3 622.5,634.0 626.5,636.3 630.5,639.2 634.5,640.5 638.5,630.0 642.5,631.5 646.5,631.0 650.5,634.4 654.5,628.3 658.5,636.9 662.5,639.7 666.5,638.2 670.5,633.4 674.5,634.4 678.5,630.0 682.5,630.4 686.5,630.1 690.5,629.3 694.5,637.6 698.5,642.0 702.5,639.6 706.5,637.3 710.5,632.9 714.5,634.4 718.5,636.0 722.5,643.8 726.5,645.3 730.5,646.4 734.5,642.8 738.5,644.5 742.5,652.0 746.5,654.8 750.5,655.8 754.5,653.5 758.5,656.4 762.5,655.9 766.5,657.5 770.5,653.0 774.5,654.8 778.5,640.9 782.5,639.4 786.5,637.6 790.5,637.8 794.5,640.6 798.5,640.3 802.5,638.7 806.5,637.5 810.5,637.3 814.5,641.9 818.5,644.3 822.5,635.6 826.5,631.3 830.5,628.7 834.5,632.3 838.5,629.6 842.5,635.8 846.5,638.6 850.5,636.6 854.5,638.8 858.5,638.8 862.5,640.4 866.5,635.8 870.5,640.1 874.5,636.0 878.5,634.7 882.5,635.3 886.5,636.3 890.5,633.1 894.5,641.1 898.5,638.9 902.5,635.7 906.5,635.0 910.5,639.5 914.5,646.7 918.5,648.9 922.5,651.6 926.5,643.4 930.5,644.2 934.5,647.2 938.5,648.4 942.5,647.5 946.5,639.1 950.5,643.4 954.5,643.9 958.5,640.8 962.5,644.4 966.5,651.7 970.5,647.8 974.5,637.1 978.5,637.9 982.5,640.4 986.5,644.4 990.5,647.4 994.5,649.4 998.5,645.0 1002.5,644.6 1006.5,648.2 1010.5,649.9 1014.5,650.3 1018.5,649.0 1022.5,645.9 1026.5,647.2 1030.5,642.7 1034.5,645.3 1038.5,648.8 1042.5,651.4 1046.5,651.9 1050.5,653.1 1054.5,656.9 1058.5,654.6 1062.5,651.9 1066.5,640.8 1070.5,644.6 1074.5,648.5 1078.5,643.3 1082.5,631.6 1086.5,634.9 1090.5,634.9 1094.5,632.6 1098.5,631.6 1102.5,633.5 1106.5,630.9 1110.5,635.4 1114.5,630.4 1118.5,635.4 1122.5,631.6 1126.5,622.8 1130.5,621.8 1134.5,617.7 1138.5,618.5 1142.5,615.5 1146.5,618.1 1150.5,620.3 1154.5,617.6 1158.5,628.7 1162.5,632.0 1166.5,628.7 1170.5,631.5 1174.5,634.4 1178.5,633.4 1182.5,632.7 1186.5,639.1 1190.5,647.2 1194.5,645.3 1198.5,646.7 1202.5,643.5 1206.5,642.6 1210.5,632.2 1214.5,637.3 1218.5,638.2 1222.5,640.2 1226.5,643.3 1230.5,641.3 1234.5,641.3 1238.5,640.8 1242.5,639.4 1246.5,630.8 1250.5,637.7 1254.5,622.8 1258.5,620.2 1262.5,623.7 1266.5,624.8 1270.5,623.0" fill="none" stroke="#1e90ff" stroke-width="1" clip-path="url(#cr)" shape-rendering="crispEdges"/>
<text x="9.7" y="699" font-size="9.6" fill="#000" textLength="150.7" lengthAdjust="spacingAndGlyphs">MACD(12,26,9) 0.002548 -0.000601</text>
<text x="1602.5" y="698" font-size="9.6" fill="#000" textLength="36" lengthAdjust="spacingAndGlyphs">0.032972</text>
<text x="1602.5" y="755" font-size="9.6" fill="#000" textLength="17.5" lengthAdjust="spacingAndGlyphs">0.00</text>
<text x="1602.5" y="784" font-size="9.6" fill="#000" textLength="41" lengthAdjust="spacingAndGlyphs">-0.018154</text>
<g shape-rendering="crispEdges" clip-path="url(#cd)">
<rect x="6" y="751" width="1" height="11" fill="#c0c0c0"/>
<rect x="10" y="751" width="1" height="10" fill="#c0c0c0"/>
<rect x="14" y="751" width="1" height="9" fill="#c0c0c0"/>
<rect x="18" y="751" width="1" height="8" fill="#c0c0c0"/>
<rect x="22" y="751" width="1" height="7" fill="#c0c0c0"/>
<rect x="26" y="751" width="1" height="6" fill="#c0c0c0"/>
<rect x="30" y="751" width="1" height="5" fill="#c0c0c0"/>
<rect x="34" y="751" width="1" height="4" fill="#c0c0c0"/>
<rect x="38" y="751" width="1" height="3" fill="#c0c0c0"/>
<rect x="42" y="751" width="1" height="2" fill="#c0c0c0"/>
<rect x="46" y="751" width="1" height="1" fill="#c0c0c0"/>
<rect x="50" y="750" width="1" height="2" fill="#c0c0c0"/>
<rect x="54" y="749" width="1" height="3" fill="#c0c0c0"/>
<rect x="58" y="749" width="1" height="3" fill="#c0c0c0"/>
<rect x="62" y="748" width="1" height="4" fill="#c0c0c0"/>
<rect x="66" y="748" width="1" height="4" fill="#c0c0c0"/>
<rect x="70" y="748" width="1" height="4" fill="#c0c0c0"/>
<rect x="74" y="748" width="1" height="4" fill="#c0c0c0"/>
<rect x="78" y="747" width="1" height="5" fill="#c0c0c0"/>
<rect x="82" y="747" width="1" height="5" fill="#c0c0c0"/>
<rect x="86" y="746" width="1" height="6" fill="#c0c0c0"/>
<rect x="90" y="746" width="1" height="6" fill="#c0c0c0"/>
<rect x="94" y="745" width="1" height="7" fill="#c0c0c0"/>
<rect x="98" y="745" width="1" height="7" fill="#c0c0c0"/>
<rect x="102" y="745" width="1" height="7" fill="#c0c0c0"/>
<rect x="106" y="745" width="1" height="7" fill="#c0c0c0"/>
<rect x="110" y="746" width="1" height="6" fill="#c0c0c0"/>
<rect x="114" y="746" width="1" height="6" fill="#c0c0c0"/>
<rect x="118" y="746" width="1" height="6" fill="#c0c0c0"/>
<rect x="122" y="746" width="1" height="6" fill="#c0c0c0"/>
<rect x="126" y="747" width="1" height="5" fill="#c0c0c0"/>
<rect x="130" y="749" width="1" height="3" fill="#c0c0c0"/>
<rect x="134" y="749" width="1" height="3" fill="#c0c0c0"/>
<rect x="138" y="749" width="1" height="3" fill="#c0c0c0"/>
<rect x="142" y="750" width="1" height="2" fill="#c0c0c0"/>
<rect x="146" y="750" width="1" height="2" fill="#c0c0c0"/>
<rect x="150" y="751" width="1" height="1" fill="#c0c0c0"/>
<rect x="154" y="751" width="1" height="2" fill="#c0c0c0"/>
<rect x="158" y="751" width="1" height="2" fill="#c0c0c0"/>
<rect x="162" y="751" width="1" height="3" fill="#c0c0c0"/>
<rect x="166" y="751" width="1" height="4" fill="#c0c0c0"/>
<rect x="170" y="751" width="1" height="4" fill="#c0c0c0"/>
<rect x="174" y="751" width="1" height="6" fill="#c0c0c0"/>
<rect x="178" y="751" width="1" height="6" fill="#c0c0c0"/>
<rect x="182" y="751" width="1" height="6" fill="#c0c0c0"/>
<rect x="186" y="751" width="1" height="6" fill="#c0c0c0"/>
<rect x="190" y="751" width="1" height="6" fill="#c0c0c0"/>
<rect x="194" y="751" width="1" height="5" fill="#c0c0c0"/>
<rect x="198" y="751" width="1" height="5" fill="#c0c0c0"/>
<rect x="202" y="751" width="1" height="6" fill="#c0c0c0"/>
<rect x="206" y="751" width="1" height="7" fill="#c0c0c0"/>
<rect x="210" y="751" width="1" height="7" fill="#c0c0c0"/>
<rect x="214" y="751" width="1" height="8" fill="#c0c0c0"/>
<rect x="218" y="751" width="1" height="10" fill="#c0c0c0"/>
<rect x="222" y="751" width="1" height="11" fill="#c0c0c0"/>
<rect x="226" y="751" width="1" height="12" fill="#c0c0c0"/>
<rect x="230" y="751" width="1" height="13" fill="#c0c0c0"/>
<rect x="234" y="751" width="1" height="13" fill="#c0c0c0"/>
<rect x="238" y="751" width="1" height="13" fill="#c0c0c0"/>
<rect x="242" y="751" width="1" height="12" fill="#c0c0c0"/>
<rect x="246" y="751" width="1" height="12" fill="#c0c0c0"/>
<rect x="250" y="751" width="1" height="10" fill="#c0c0c0"/>
<rect x="254" y="751" width="1" height="9" fill="#c0c0c0"/>
<rect x="258" y="751" width="1" height="8" fill="#c0c0c0"/>
<rect x="262" y="751" width="1" height="8" fill="#c0c0c0"/>
<rect x="266" y="751" width="1" height="7" fill="#c0c0c0"/>
<rect x="270" y="751" width="1" height="6" fill="#c0c0c0"/>
<rect x="274" y="751" width="1" height="6" fill="#c0c0c0"/>
<rect x="278" y="751" width="1" height="5" fill="#c0c0c0"/>
<rect x="282" y="751" width="1" height="5" fill="#c0c0c0"/>
<rect x="286" y="751" width="1" height="5" fill="#c0c0c0"/>
<rect x="290" y="751" width="1" height="4" fill="#c0c0c0"/>
<rect x="294" y="751" width="1" height="3" fill="#c0c0c0"/>
<rect x="298" y="751" width="1" height="2" fill="#c0c0c0"/>
<rect x="302" y="751" width="1" height="1" fill="#c0c0c0"/>
<rect x="306" y="750" width="1" height="2" fill="#c0c0c0"/>
<rect x="310" y="749" width="1" height="3" fill="#c0c0c0"/>
<rect x="314" y="747" width="1" height="5" fill="#c0c0c0"/>
<rect x="318" y="746" width="1" height="6" fill="#c0c0c0"/>
<rect x="322" y="745" width="1" height="7" fill="#c0c0c0"/>
<rect x="326" y="744" width="1" height="8" fill="#c0c0c0"/>
<rect x="330" y="744" width="1" height="8" fill="#c0c0c0"/>
<rect x="334" y="743" width="1" height="9" fill="#c0c0c0"/>
<rect x="338" y="742" width="1" height="10" fill="#c0c0c0"/>
<rect x="342" y="741" width="1" height="11" fill="#c0c0c0"/>
<rect x="346" y="741" width="1" height="11" fill="#c0c0c0"/>
<rect x="350" y="740" width="1" height="12" fill="#c0c0c0"/>
<rect x="354" y="740" width="1" height="12" fill="#c0c0c0"/>
<rect x="358" y="740" width="1" height="12" fill="#c0c0c0"/>
<rect x="362" y="740" width="1" height="12" fill="#c0c0c0"/>
<rect x="366" y="741" width="1" height="11" fill="#c0c0c0"/>
<rect x="370" y="742" width="1" height="10" fill="#c0c0c0"/>
<rect x="374" y="743" width="1" height="9" fill="#c0c0c0"/>
<rect x="378" y="743" width="1" height="9" fill="#c0c0c0"/>
<rect x="382" y="744" width="1" height="8" fill="#c0c0c0"/>
<rect x="386" y="745" width="1" height="7" fill="#c0c0c0"/>
<rect x="390" y="746" width="1" height="6" fill="#c0c0c0"/>
<rect x="394" y="746" width="1" height="6" fill="#c0c0c0"/>
<rect x="398" y="747" width="1" height="5" fill="#c0c0c0"/>
<rect x="402" y="748" width="1" height="4" fill="#c0c0c0"/>
<rect x="406" y="748" width="1" height="4" fill="#c0c0c0"/>
<rect x="410" y="747" width="1" height="5" fill="#c0c0c0"/>
<rect x="414" y="747" width="1" height="5" fill="#c0c0c0"/>
<rect x="418" y="746" width="1" height="6" fill="#c0c0c0"/>
<rect x="422" y="744" width="1" height="8" fill="#c0c0c0"/>
<rect x="426" y="743" width="1" height="9" fill="#c0c0c0"/>
<rect x="430" y="742" width="1" height="10" fill="#c0c0c0"/>
<rect x="434" y="743" width="1" height="9" fill="#c0c0c0"/>
<rect x="438" y="742" width="1" height="10" fill="#c0c0c0"/>
<rect x="442" y="742" width="1" height="10" fill="#c0c0c0"/>
<rect x="446" y="741" width="1" height="11" fill="#c0c0c0"/>
<rect x="450" y="741" width="1" height="11" fill="#c0c0c0"/>
<rect x="454" y="740" width="1" height="12" fill="#c0c0c0"/>
<rect x="458" y="734" width="1" height="18" fill="#c0c0c0"/>
<rect x="462" y="731" width="1" height="21" fill="#c0c0c0"/>
<rect x="466" y="727" width="1" height="25" fill="#c0c0c0"/>
<rect x="470" y="722" width="1" height="30" fill="#c0c0c0"/>
<rect x="474" y="719" width="1" height="33" fill="#c0c0c0"/>
<rect x="478" y="717" width="1" height="35" fill="#c0c0c0"/>
<rect x="482" y="712" width="1" height="40" fill="#c0c0c0"/>
<rect x="486" y="703" width="1" height="49" fill="#c0c0c0"/>
<rect x="490" y="698" width="1" height="54" fill="#c0c0c0"/>
<rect x="494" y="696" width="1" height="56" fill="#c0c0c0"/>
<rect x="498" y="694" width="1" height="58" fill="#c0c0c0"/>
<rect x="502" y="692" width="1" height="60" fill="#c0c0c0"/>
<rect x="506" y="691" width="1" height="61" fill="#c0c0c0"/>
<rect x="510" y="694" width="1" height="58" fill="#c0c0c0"/>
<rect x="514" y="701" width="1" height="51" fill="#c0c0c0"/>
<rect x="518" y="707" width="1" height="45" fill="#c0c0c0"/>
<rect x="522" y="714" width="1" height="38" fill="#c0c0c0"/>
<rect x="526" y="716" width="1" height="36" fill="#c0c0c0"/>
<rect x="530" y="720" width="1" height="32" fill="#c0c0c0"/>
<rect x="534" y="721" width="1" height="31" fill="#c0c0c0"/>
<rect x="538" y="724" width="1" height="28" fill="#c0c0c0"/>
<rect x="542" y="726" width="1" height="26" fill="#c0c0c0"/>
<rect x="546" y="728" width="1" height="24" fill="#c0c0c0"/>
<rect x="550" y="730" width="1" height="22" fill="#c0c0c0"/>
<rect x="554" y="734" width="1" height="18" fill="#c0c0c0"/>
<rect x="558" y="737" width="1" height="15" fill="#c0c0c0"/>
<rect x="562" y="740" width="1" height="12" fill="#c0c0c0"/>
<rect x="566" y="743" width="1" height="9" fill="#c0c0c0"/>
<rect x="570" y="745" width="1" height="7" fill="#c0c0c0"/>
<rect x="574" y="747" width="1" height="5" fill="#c0c0c0"/>
<rect x="578" y="749" width="1" height="3" fill="#c0c0c0"/>
<rect x="582" y="748" width="1" height="4" fill="#c0c0c0"/>
<rect x="586" y="746" width="1" height="6" fill="#c0c0c0"/>
<rect x="590" y="747" width="1" height="5" fill="#c0c0c0"/>
<rect x="594" y="748" width="1" height="4" fill="#c0c0c0"/>
<rect x="598" y="748" width="1" height="4" fill="#c0c0c0"/>
<rect x="602" y="745" width="1" height="7" fill="#c0c0c0"/>
<rect x="606" y="745" width="1" height="7" fill="#c0c0c0"/>
<rect x="610" y="746" width="1" height="6" fill="#c0c0c0"/>
<rect x="614" y="746" width="1" height="6" fill="#c0c0c0"/>
<rect x="618" y="746" width="1" height="6" fill="#c0c0c0"/>
<rect x="622" y="747" width="1" height="5" fill="#c0c0c0"/>
<rect x="626" y="748" width="1" height="4" fill="#c0c0c0"/>
<rect x="630" y="751" width="1" height="1" fill="#c0c0c0"/>
<rect x="634" y="751" width="1" height="3" fill="#c0c0c0"/>
<rect x="638" y="751" width="1" height="1" fill="#c0c0c0"/>
<rect x="642" y="751" width="1" height="1" fill="#c0c0c0"/>
<rect x="646" y="750" width="1" height="2" fill="#c0c0c0"/>
<rect x="650" y="750" width="1" height="2" fill="#c0c0c0"/>
<rect x="654" y="749" width="1" height="3" fill="#c0c0c0"/>
<rect x="658" y="750" width="1" height="2" fill="#c0c0c0"/>
<rect x="662" y="751" width="1" height="3" fill="#c0c0c0"/>
<rect x="666" y="751" width="1" height="4" fill="#c0c0c0"/>
<rect x="670" y="751" width="1" height="3" fill="#c0c0c0"/>
<rect x="674" y="751" width="1" height="3" fill="#c0c0c0"/>
<rect x="678" y="751" width="1" height="2" fill="#c0c0c0"/>
<rect x="682" y="751" width="1" height="1" fill="#c0c0c0"/>
<rect x="686" y="750" width="1" height="2" fill="#c0c0c0"/>
<rect x="690" y="749" width="1" height="3" fill="#c0c0c0"/>
<rect x="694" y="751" width="1" height="1" fill="#c0c0c0"/>
<rect x="698" y="751" width="1" height="3" fill="#c0c0c0"/>
<rect x="702" y="751" width="1" height="4" fill="#c0c0c0"/>
<rect x="706" y="751" width="1" height="5" fill="#c0c0c0"/>
<rect x="710" y="751" width="1" height="4" fill="#c0c0c0"/>
<rect x="714" y="751" width="1" height="4" fill="#c0c0c0"/>
<rect x="718" y="751" width="1" height="4" fill="#c0c0c0"/>
<rect x="722" y="751" width="1" height="7" fill="#c0c0c0"/>
<rect x="726" y="751" width="1" height="9" fill="#c0c0c0"/>
<rect x="730" y="751" width="1" height="11" fill="#c0c0c0"/>
<rect x="734" y="751" width="1" height="12" fill="#c0c0c0"/>
<rect x="738" y="751" width="1" height="13" fill="#c0c0c0"/>
<rect x="742" y="751" width="1" height="16" fill="#c0c0c0"/>
<rect x="746" y="751" width="1" height="20" fill="#c0c0c0"/>
<rect x="750" y="751" width="1" height="23" fill="#c0c0c0"/>
<rect x="754" y="751" width="1" height="25" fill="#c0c0c0"/>
<rect x="758" y="751" width="1" height="28" fill="#c0c0c0"/>
<rect x="762" y="751" width="1" height="29" fill="#c0c0c0"/>
<rect x="766" y="751" width="1" height="31" fill="#c0c0c0"/>
<rect x="770" y="751" width="1" height="31" fill="#c0c0c0"/>
<rect x="774" y="751" width="1" height="32" fill="#c0c0c0"/>
<rect x="778" y="751" width="1" height="29" fill="#c0c0c0"/>
<rect x="782" y="751" width="1" height="26" fill="#c0c0c0"/>
<rect x="786" y="751" width="1" height="23" fill="#c0c0c0"/>
<rect x="790" y="751" width="1" height="21" fill="#c0c0c0"/>
<rect x="794" y="751" width="1" height="19" fill="#c0c0c0"/>
<rect x="798" y="751" width="1" height="18" fill="#c0c0c0"/>
<rect x="802" y="751" width="1" height="16" fill="#c0c0c0"/>
<rect x="806" y="751" width="1" height="15" fill="#c0c0c0"/>
<rect x="810" y="751" width="1" height="13" fill="#c0c0c0"/>
<rect x="814" y="751" width="1" height="13" fill="#c0c0c0"/>
<rect x="818" y="751" width="1" height="13" fill="#c0c0c0"/>
<rect x="822" y="751" width="1" height="12" fill="#c0c0c0"/>
<rect x="826" y="751" width="1" height="9" fill="#c0c0c0"/>
<rect x="830" y="751" width="1" height="7" fill="#c0c0c0"/>
<rect x="834" y="751" width="1" height="6" fill="#c0c0c0"/>
<rect x="838" y="751" width="1" height="4" fill="#c0c0c0"/>
<rect x="842" y="751" width="1" height="4" fill="#c0c0c0"/>
<rect x="846" y="751" width="1" height="5" fill="#c0c0c0"/>
<rect x="850" y="751" width="1" height="5" fill="#c0c0c0"/>
<rect x="854" y="751" width="1" height="5" fill="#c0c0c0"/>
<rect x="858" y="751" width="1" height="5" fill="#c0c0c0"/>
<rect x="862" y="751" width="1" height="6" fill="#c0c0c0"/>
<rect x="866" y="751" width="1" height="6" fill="#c0c0c0"/>
<rect x="870" y="751" width="1" height="6" fill="#c0c0c0"/>
<rect x="874" y="751" width="1" height="6" fill="#c0c0c0"/>
<rect x="878" y="751" width="1" height="5" fill="#c0c0c0"/>
<rect x="882" y="751" width="1" height="5" fill="#c0c0c0"/>
<rect x="886" y="751" width="1" height="5" fill="#c0c0c0"/>
<rect x="890" y="751" width="1" height="4" fill="#c0c0c0"/>
<rect x="894" y="751" width="1" height="5" fill="#c0c0c0"/>
<rect x="898" y="751" width="1" height="5" fill="#c0c0c0"/>
<rect x="902" y="751" width="1" height="5" fill="#c0c0c0"/>
<rect x="906" y="751" width="1" height="4" fill="#c0c0c0"/>
<rect x="910" y="751" width="1" height="5" fill="#c0c0c0"/>
<rect x="914" y="751" width="1" height="6" fill="#c0c0c0"/>
<rect x="918" y="751" width="1" height="8" fill="#c0c0c0"/>
<rect x="922" y="751" width="1" height="10" fill="#c0c0c0"/>
<rect x="926" y="751" width="1" height="10" fill="#c0c0c0"/>
<rect x="930" y="751" width="1" height="11" fill="#c0c0c0"/>
<rect x="934" y="751" width="1" height="12" fill="#c0c0c0"/>
<rect x="938" y="751" width="1" height="12" fill="#c0c0c0"/>
<rect x="942" y="751" width="1" height="13" fill="#c0c0c0"/>
<rect x="946" y="751" width="1" height="12" fill="#c0c0c0"/>
<rect x="950" y="751" width="1" height="12" fill="#c0c0c0"/>
<rect x="954" y="751" width="1" height="12" fill="#c0c0c0"/>
<rect x="958" y="751" width="1" height="11" fill="#c0c0c0"/>
<rect x="962" y="751" width="1" height="11" fill="#c0c0c0"/>
<rect x="966" y="751" width="1" height="13" fill="#c0c0c0"/>
<rect x="970" y="751" width="1" height="14" fill="#c0c0c0"/>
<rect x="974" y="751" width="1" height="12" fill="#c0c0c0"/>
<rect x="978" y="751" width="1" height="11" fill="#c0c0c0"/>
<rect x="982" y="751" width="1" height="11" fill="#c0c0c0"/>
<rect x="986" y="751" width="1" height="11" fill="#c0c0c0"/>
<rect x="990" y="751" width="1" height="12" fill="#c0c0c0"/>
<rect x="994" y="751" width="1" height="14" fill="#c0c0c0"/>
<rect x="998" y="751" width="1" height="14" fill="#c0c0c0"/>
<rect x="1002" y="751" width="1" height="14" fill="#c0c0c0"/>
<rect x="1006" y="751" width="1" height="14" fill="#c0c0c0"/>
<rect x="1010" y="751" width="1" height="15" fill="#c0c0c0"/>
<rect x="1014" y="751" width="1" height="16" fill="#c0c0c0"/>
<rect x="1018" y="751" width="1" height="16" fill="#c0c0c0"/>
<rect x="1022" y="751" width="1" height="15" fill="#c0c0c0"/>
<rect x="1026" y="751" width="1" height="15" fill="#c0c0c0"/>
<rect x="1030" y="751" width="1" height="14" fill="#c0c0c0"/>
<rect x="1034" y="751" width="1" height="14" fill="#c0c0c0"/>
<rect x="1038" y="751" width="1" height="14" fill="#c0c0c0"/>
<rect x="1042" y="751" width="1" height="14" fill="#c0c0c0"/>
<rect x="1046" y="751" width="1" height="15" fill="#c0c0c0"/>
<rect x="1050" y="751" width="1" height="15" fill="#c0c0c0"/>
<rect x="1054" y="751" width="1" height="16" fill="#c0c0c0"/>
<rect x="1058" y="751" width="1" height="17" fill="#c0c0c0"/>
<rect x="1062" y="751" width="1" height="17" fill="#c0c0c0"/>
<rect x="1066" y="751" width="1" height="15" fill="#c0c0c0"/>
<rect x="1070" y="751" width="1" height="15" fill="#c0c0c0"/>
<rect x="1074" y="751" width="1" height="15" fill="#c0c0c0"/>
<rect x="1078" y="751" width="1" height="14" fill="#c0c0c0"/>
<rect x="1082" y="751" width="1" height="12" fill="#c0c0c0"/>
<rect x="1086" y="751" width="1" height="10" fill="#c0c0c0"/>
<rect x="1090" y="751" width="1" height="9" fill="#c0c0c0"/>
<rect x="1094" y="751" width="1" height="8" fill="#c0c0c0"/>
<rect x="1098" y="751" width="1" height="6" fill="#c0c0c0"/>
<rect x="1102" y="751" width="1" height="5" fill="#c0c0c0"/>
<rect x="1106" y="751" width="1" height="4" fill="#c0c0c0"/>
<rect x="1110" y="751" width="1" height="4" fill="#c0c0c0"/>
<rect x="1114" y="751" width="1" height="3" fill="#c0c0c0"/>
<rect x="1118" y="751" width="1" height="3" fill="#c0c0c0"/>
<rect x="1122" y="751" width="1" height="2" fill="#c0c0c0"/>
<rect x="1126" y="750" width="1" height="2" fill="#c0c0c0"/>
<rect x="1130" y="748" width="1" height="4" fill="#c0c0c0"/>
<rect x="1134" y="746" width="1" height="6" fill="#c0c0c0"/>
<rect x="1138" y="744" width="1" height="8" fill="#c0c0c0"/>
<rect x="1142" y="742" width="1" height="10" fill="#c0c0c0"/>
<rect x="1146" y="741" width="1" height="11" fill="#c0c0c0"/>
<rect x="1150" y="741" width="1" height="11" fill="#c0c0c0"/>
<rect x="1154" y="740" width="1" height="12" fill="#c0c0c0"/>
<rect x="1158" y="741" width="1" height="11" fill="#c0c0c0"/>
<rect x="1162" y="742" width="1" height="10" fill="#c0c0c0"/>
<rect x="1166" y="743" width="1" height="9" fill="#c0c0c0"/>
<rect x="1170" y="744" width="1" height="8" fill="#c0c0c0"/>
<rect x="1174" y="745" width="1" height="7" fill="#c0c0c0"/>
<rect x="1178" y="746" width="1" height="6" fill="#c0c0c0"/>
<rect x="1182" y="747" width="1" height="5" fill="#c0c0c0"/>
<rect x="1186" y="748" width="1" height="4" fill="#c0c0c0"/>
<rect x="1190" y="751" width="1" height="1" fill="#c0c0c0"/>
<rect x="1194" y="751" width="1" height="3" fill="#c0c0c0"/>
<rect x="1198" y="751" width="1" height="5" fill="#c0c0c0"/>
<rect x="1202" y="751" width="1" height="6" fill="#c0c0c0"/>
<rect x="1206" y="751" width="1" height="6" fill="#c0c0c0"/>
<rect x="1210" y="751" width="1" height="5" fill="#c0c0c0"/>
<rect x="1214" y="751" width="1" height="5" fill="#c0c0c0"/>
<rect x="1218" y="751" width="1" height="5" fill="#c0c0c0"/>
<rect x="1222" y="751" width="1" height="6" fill="#c0c0c0"/>
<rect x="1226" y="751" width="1" height="7" fill="#c0c0c0"/>
<rect x="1230" y="751" width="1" height="7" fill="#c0c0c0"/>
<rect x="1234" y="751" width="1" height="7" fill="#c0c0c0"/>
<rect x="1238" y="751" width="1" height="7" fill="#c0c0c0"/>
<rect x="1242" y="751" width="1" height="7" fill="#c0c0c0"/>
<rect x="1246" y="751" width="1" height="6" fill="#c0c0c0"/>
<rect x="1250" y="751" width="1" height="6" fill="#c0c0c0"/>
<rect x="1254" y="751" width="1" height="3" fill="#c0c0c0"/>
<rect x="1258" y="750" width="1" height="2" fill="#c0c0c0"/>
<rect x="1262" y="748" width="1" height="4" fill="#c0c0c0"/>
<rect x="1266" y="747" width="1" height="5" fill="#c0c0c0"/>
<rect x="1270" y="746" width="1" height="6" fill="#c0c0c0"/>
</g>
<polyline points="6.5,761.6 10.5,761.8 14.5,761.8 18.5,761.6 22.5,761.1 26.5,760.5 30.5,759.6 34.5,758.6 38.5,757.5 42.5,756.5 46.5,755.5 50.5,754.6 54.5,753.7 58.5,752.7 62.5,751.9 66.5,751.1 70.5,750.5 74.5,750.0 78.5,749.4 82.5,748.9 86.5,748.5 90.5,748.0 94.5,747.7 98.5,747.3 102.5,746.9 106.5,746.6 110.5,746.3 114.5,746.1 118.5,746.0 122.5,746.0 126.5,746.2 130.5,746.6 134.5,747.0 138.5,747.4 142.5,747.9 146.5,748.4 150.5,748.9 154.5,749.6 158.5,750.3 162.5,750.9 166.5,751.5 170.5,752.1 174.5,752.9 178.5,753.6 182.5,754.3 186.5,754.8 190.5,755.3 194.5,755.6 198.5,755.9 202.5,756.1 206.5,756.3 210.5,756.5 214.5,756.8 218.5,757.2 222.5,757.8 226.5,758.6 230.5,759.4 234.5,760.2 238.5,761.0 242.5,761.7 246.5,762.1 250.5,762.3 254.5,762.2 258.5,761.8 262.5,761.3 266.5,760.6 270.5,759.9 274.5,759.1 278.5,758.3 282.5,757.6 286.5,757.0 290.5,756.5 294.5,755.9 298.5,755.3 302.5,754.6 306.5,753.8 310.5,753.0 314.5,752.1 318.5,751.2 322.5,750.1 326.5,749.0 330.5,748.0 334.5,747.1 338.5,746.1 342.5,745.1 346.5,744.3 350.5,743.4 354.5,742.7 358.5,742.1 362.5,741.7 366.5,741.4 370.5,741.3 374.5,741.3 378.5,741.6 382.5,742.0 386.5,742.5 390.5,743.1 394.5,743.9 398.5,744.7 402.5,745.4 406.5,746.1 410.5,746.6 414.5,747.0 418.5,747.1 422.5,747.0 426.5,746.7 430.5,746.2 434.5,745.7 438.5,745.1 442.5,744.4 446.5,743.7 450.5,743.1 454.5,742.4 458.5,741.4 462.5,740.1 466.5,738.4 470.5,736.0 474.5,733.5 478.5,730.7 482.5,727.4 486.5,723.2 490.5,718.6 494.5,714.4 498.5,710.3 502.5,706.4 506.5,703.0 510.5,700.3 514.5,698.5 518.5,698.0 522.5,699.2 526.5,701.2 530.5,703.8 534.5,706.8 538.5,710.3 542.5,714.1 546.5,717.8 550.5,721.0 554.5,724.0 558.5,726.5 562.5,729.1 566.5,731.7 570.5,734.4 574.5,737.0 578.5,739.6 582.5,741.9 586.5,743.7 590.5,745.2 594.5,746.4 598.5,747.2 602.5,747.5 606.5,747.5 610.5,747.4 614.5,747.0 618.5,746.8 622.5,746.8 626.5,747.0 630.5,747.3 634.5,747.9 638.5,748.5 642.5,749.2 646.5,749.6 650.5,750.1 654.5,750.5 658.5,750.9 662.5,751.3 666.5,751.7 670.5,751.8 674.5,752.0 678.5,752.2 682.5,752.3 686.5,752.2 690.5,752.2 694.5,752.2 698.5,752.3 702.5,752.3 706.5,752.5 710.5,752.6 714.5,752.8 718.5,753.2 722.5,753.9 726.5,755.0 730.5,756.2 734.5,757.2 738.5,758.1 742.5,759.4 746.5,761.1 750.5,763.3 754.5,765.6 758.5,768.0 762.5,770.2 766.5,772.4 770.5,774.6 774.5,776.7 778.5,778.1 782.5,778.7 786.5,778.7 790.5,778.2 794.5,777.3 798.5,776.0 802.5,774.4 806.5,772.6 810.5,770.6 814.5,768.8 818.5,767.3 822.5,766.0 826.5,764.8 830.5,763.4 834.5,762.1 838.5,760.7 842.5,759.6 846.5,758.6 850.5,757.7 854.5,756.8 858.5,756.1 862.5,755.8 866.5,755.6 870.5,755.6 874.5,755.8 878.5,755.9 882.5,755.9 886.5,755.9 890.5,755.7 894.5,755.6 898.5,755.5 902.5,755.4 906.5,755.3 910.5,755.1 914.5,755.3 918.5,755.7 922.5,756.3 926.5,757.0 930.5,757.7 934.5,758.4 938.5,759.3 942.5,760.2 946.5,761.0 950.5,761.6 954.5,762.0 958.5,762.1 962.5,762.2 966.5,762.4 970.5,762.7 974.5,762.7 978.5,762.5 982.5,762.4 986.5,762.4 990.5,762.5 994.5,762.7 998.5,763.0 1002.5,763.1 1006.5,763.1 1010.5,763.4 1014.5,763.9 1018.5,764.4 1022.5,764.8 1026.5,765.1 1030.5,765.1 1034.5,765.1 1038.5,765.2 1042.5,765.2 1046.5,765.2 1050.5,765.2 1054.5,765.2 1058.5,765.4 1062.5,765.6 1066.5,765.8 1070.5,765.9 1074.5,766.0 1078.5,766.0 1082.5,765.6 1086.5,765.0 1090.5,764.2 1094.5,763.2 1098.5,762.0 1102.5,760.9 1106.5,759.8 1110.5,758.6 1114.5,757.3 1118.5,756.4 1122.5,755.5 1126.5,754.5 1130.5,753.5 1134.5,752.4 1138.5,751.1 1142.5,749.8 1146.5,748.4 1150.5,747.0 1154.5,745.6 1158.5,744.3 1162.5,743.4 1166.5,742.8 1170.5,742.5 1174.5,742.6 1178.5,743.0 1182.5,743.5 1186.5,744.4 1190.5,745.6 1194.5,747.0 1198.5,748.4 1202.5,749.8 1206.5,751.3 1210.5,752.4 1214.5,753.5 1218.5,754.4 1222.5,755.3 1226.5,755.9 1230.5,756.4 1234.5,756.6 1238.5,756.8 1242.5,756.8 1246.5,756.8 1250.5,756.9 1254.5,756.6 1258.5,755.9 1262.5,755.0 1266.5,753.9 1270.5,752.6" fill="none" stroke="#ff0000" stroke-width="1" stroke-dasharray="3,3" clip-path="url(#cd)" shape-rendering="crispEdges"/>
<g shape-rendering="crispEdges">
<rect x="6" y="788" width="1" height="3" fill="#000"/>
<rect x="70" y="788" width="1" height="3" fill="#000"/>
<rect x="134" y="788" width="1" height="3" fill="#000"/>
<rect x="198" y="788" width="1" height="3" fill="#000"/>
<rect x="262" y="788" width="1" height="3" fill="#000"/>
<rect x="326" y="788" width="1" height="3" fill="#000"/>
<rect x="390" y="788" width="1" height="3" fill="#000"/>
<rect x="454" y="788" width="1" height="3" fill="#000"/>
<rect x="518" y="788" width="1" height="3" fill="#000"/>
<rect x="582" y="788" width="1" height="3" fill="#000"/>
<rect x="646" y="788" width="1" height="3" fill="#000"/>
<rect x="710" y="788" width="1" height="3" fill="#000"/>
<rect x="774" y="788" width="1" height="3" fill="#000"/>
<rect x="838" y="788" width="1" height="3" fill="#000"/>
<rect x="902" y="788" width="1" height="3" fill="#000"/>
<rect x="966" y="788" width="1" height="3" fill="#000"/>
<rect x="1030" y="788" width="1" height="3" fill="#000"/>
<rect x="1094" y="788" width="1" height="3" fill="#000"/>
<rect x="1158" y="788" width="1" height="3" fill="#000"/>
<rect x="1222" y="788" width="1" height="3" fill="#000"/>
</g>
<text x="5.5" y="800" font-size="9.6" fill="#000" textLength="50" lengthAdjust="spacingAndGlyphs">30 Oct 2019</text>
<text x="69.5" y="800" font-size="9.6" fill="#000" textLength="53" lengthAdjust="spacingAndGlyphs">18 Nov 2019</text>
<text x="133.5" y="800" font-size="9.6" fill="#000" textLength="47" lengthAdjust="spacingAndGlyphs">6 Dec 2019</text>
<text x="197.5" y="800" font-size="9.6" fill="#000" textLength="51" lengthAdjust="spacingAndGlyphs">25 Dec 2019</text>
<text x="261.5" y="800" font-size="9.6" fill="#000" textLength="50" lengthAdjust="spacingAndGlyphs">13 Jan 2020</text>
<text x="325.5" y="800" font-size="9.6" fill="#000" textLength="49.6" lengthAdjust="spacingAndGlyphs">31 Jan 2020</text>
<text x="389.5" y="800" font-size="9.6" fill="#000" textLength="51.2" lengthAdjust="spacingAndGlyphs">19 Feb 2020</text>
<text x="453.5" y="800" font-size="9.6" fill="#000" textLength="46.8" lengthAdjust="spacingAndGlyphs">9 Mar 2020</text>
<text x="517.5" y="800" font-size="9.6" fill="#000" textLength="51.2" lengthAdjust="spacingAndGlyphs">27 Mar 2020</text>
<text x="581.5" y="800" font-size="9.6" fill="#000" textLength="50.2" lengthAdjust="spacingAndGlyphs">15 Apr 2020</text>
<text x="645.5" y="800" font-size="9.6" fill="#000" textLength="49.6" lengthAdjust="spacingAndGlyphs">4 May 2020</text>
<text x="709.5" y="800" font-size="9.6" fill="#000" textLength="54.2" lengthAdjust="spacingAndGlyphs">22 May 2020</text>
<text x="773.5" y="800" font-size="9.6" fill="#000" textLength="49.2" lengthAdjust="spacingAndGlyphs">10 Jun 2020</text>
<text x="837.5" y="800" font-size="9.6" fill="#000" textLength="48.8" lengthAdjust="spacingAndGlyphs">29 Jun 2020</text>
<text x="901.5" y="800" font-size="9.6" fill="#000" textLength="46.2" lengthAdjust="spacingAndGlyphs">17 Jul 2020</text>
<text x="965.5" y="800" font-size="9.6" fill="#000" textLength="47.6" lengthAdjust="spacingAndGlyphs">5 Aug 2020</text>
<text x="1029.5" y="800" font-size="9.6" fill="#000" textLength="52.2" lengthAdjust="spacingAndGlyphs">24 Aug 2020</text>
<text x="1093.5" y="800" font-size="9.6" fill="#000" textLength="50.8" lengthAdjust="spacingAndGlyphs">11 Sep 2020</text>
<text x="1157.5" y="800" font-size="9.6" fill="#000" textLength="50.8" lengthAdjust="spacingAndGlyphs">30 Sep 2020</text>
<text x="1221.5" y="800" font-size="9.6" fill="#000" textLength="50.2" lengthAdjust="spacingAndGlyphs">19 Oct 2020</text>
<g shape-rendering="crispEdges">
<rect x="0" y="809" width="1644" height="1" fill="#e3e3e3"/>
<rect x="0" y="810" width="1644" height="1" fill="#000"/>
<rect x="0" y="811" width="1644" height="1" fill="#ffffff"/>
<rect x="0" y="812" width="1644" height="17" fill="#f0f0f0"/>
<rect x="0" y="830" width="1644" height="1" fill="#ffffff"/>
<rect x="1" y="811" width="1" height="18" fill="#6d6d6d"/>
<rect x="316" y="810" width="102" height="18" fill="#ffffff"/>
<rect x="315" y="810" width="1" height="18" fill="#000"/>
<rect x="418" y="810" width="1" height="19" fill="#000"/>
<rect x="315" y="828" width="104" height="1" fill="#000"/>
<rect x="111" y="813" width="1" height="15" fill="#555"/>
<rect x="212" y="813" width="1" height="15" fill="#555"/>
<rect x="523" y="813" width="1" height="15" fill="#555"/>
<rect x="627" y="813" width="1" height="15" fill="#555"/>
<rect x="720" y="813" width="1" height="15" fill="#555"/>
<rect x="811" y="813" width="1" height="15" fill="#555"/>
<rect x="883" y="813" width="1" height="15" fill="#555"/>
<rect x="963" y="813" width="1" height="15" fill="#555"/>
<rect x="1043" y="813" width="1" height="15" fill="#555"/>
<rect x="1123" y="813" width="1" height="15" fill="#555"/>
<rect x="1199" y="813" width="1" height="15" fill="#555"/>
<rect x="1272" y="813" width="1" height="15" fill="#555"/>
<rect x="1355" y="813" width="1" height="15" fill="#555"/>
<rect x="1435" y="813" width="1" height="15" fill="#555"/>
<rect x="1535" y="813" width="1" height="15" fill="#555"/>
<rect x="1608" y="813" width="1" height="15" fill="#555"/>
</g>
<text x="19.5" y="825" font-size="12" fill="#555" textLength="79.2" lengthAdjust="spacingAndGlyphs">EURUSD,Daily</text>
<text x="121" y="825" font-size="12" fill="#555" textLength="79" lengthAdjust="spacingAndGlyphs">USDCHF,Daily</text>
<text x="222.5" y="825" font-size="12" fill="#555" textLength="81.2" lengthAdjust="spacingAndGlyphs">AUDUSD,Daily</text>
<text x="326" y="825" font-size="12" fill="#000" textLength="80.5" lengthAdjust="spacingAndGlyphs">USDCAD,Daily</text>
<text x="429" y="825" font-size="12" fill="#555" textLength="83" lengthAdjust="spacingAndGlyphs">USDCNH,Daily</text>
<text x="535" y="825" font-size="12" fill="#555" textLength="80" lengthAdjust="spacingAndGlyphs">EURUSD,Daily</text>
<text x="639" y="825" font-size="12" fill="#555" textLength="68" lengthAdjust="spacingAndGlyphs">GBPUSD,H4</text>
<text x="730" y="825" font-size="12" fill="#555" textLength="68.5" lengthAdjust="spacingAndGlyphs">XAUUSD,H1</text>
<text x="823" y="825" font-size="12" fill="#555" textLength="49" lengthAdjust="spacingAndGlyphs">HK50,H1</text>
<text x="894.5" y="825" font-size="12" fill="#555" textLength="56.5" lengthAdjust="spacingAndGlyphs">UK100,H1</text>
<text x="974.5" y="825" font-size="12" fill="#555" textLength="56.5" lengthAdjust="spacingAndGlyphs">UK100,H1</text>
<text x="1054.5" y="825" font-size="12" fill="#555" textLength="56.5" lengthAdjust="spacingAndGlyphs">GER30,H1</text>
<text x="1133" y="825" font-size="12" fill="#555" textLength="54.5" lengthAdjust="spacingAndGlyphs">FRA40,H1</text>
<text x="1209.5" y="825" font-size="12" fill="#555" textLength="49.5" lengthAdjust="spacingAndGlyphs">USOil,H4</text>
<text x="1281" y="825" font-size="12" fill="#555" textLength="62" lengthAdjust="spacingAndGlyphs">USDJPY,H1</text>
<text x="1365.5" y="825" font-size="12" fill="#555" textLength="58.5" lengthAdjust="spacingAndGlyphs">DJ30,Daily</text>
<text x="1445.5" y="825" font-size="12" fill="#555" textLength="77.5" lengthAdjust="spacingAndGlyphs">CHINA300,H1</text>
<text x="1545.5" y="825" font-size="12" fill="#555" textLength="50" lengthAdjust="spacingAndGlyphs">USOil,H1</text>
<path d="M1614 820.5 L1618 817 L1618 824 Z" fill="#a0a0a0"/><path d="M1632.5 817 L1636.5 820.5 L1632.5 824 Z" fill="#000"/>
</svg></body></html>
